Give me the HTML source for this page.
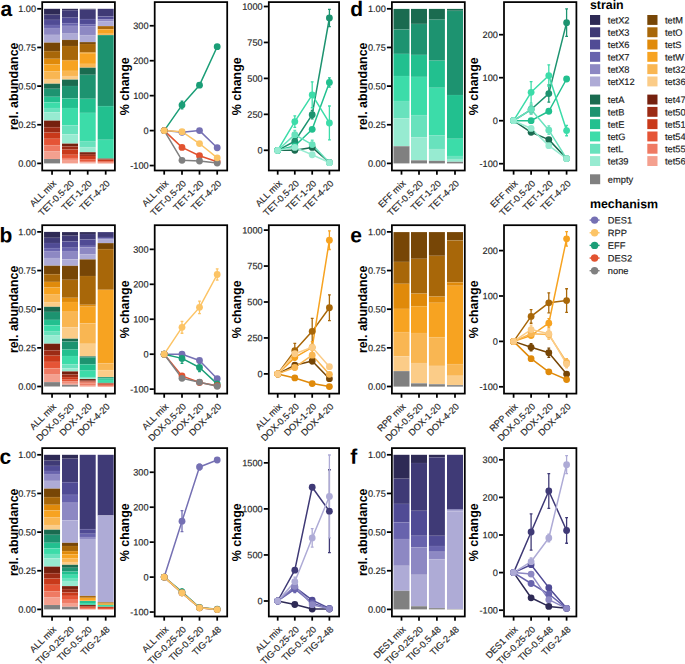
<!DOCTYPE html>
<html><head><meta charset="utf-8"><style>html,body{margin:0;padding:0;background:#fff;overflow:hidden;}svg{display:block;}</style></head><body>
<svg width="685" height="664" viewBox="0 0 685 664" font-family='"Liberation Sans", sans-serif'>
<rect width="685" height="664" fill="#fff"/>
<rect x="44.05" y="8.80" width="16.00" height="5.90" fill="#2e2a55"/>
<rect x="44.05" y="14.70" width="16.00" height="5.20" fill="#3f3a76"/>
<rect x="44.05" y="19.90" width="16.00" height="5.10" fill="#504b95"/>
<rect x="44.05" y="25.00" width="16.00" height="3.00" fill="#6863ad"/>
<rect x="44.05" y="28.00" width="16.00" height="6.90" fill="#8d88c3"/>
<rect x="44.05" y="34.90" width="16.00" height="7.70" fill="#aeabd6"/>
<rect x="44.05" y="42.60" width="16.00" height="8.50" fill="#774606"/>
<rect x="44.05" y="51.10" width="16.00" height="7.70" fill="#a86709"/>
<rect x="44.05" y="58.80" width="16.00" height="5.70" fill="#e08a0a"/>
<rect x="44.05" y="64.50" width="16.00" height="7.10" fill="#f7a321"/>
<rect x="44.05" y="71.60" width="16.00" height="7.40" fill="#f9b652"/>
<rect x="44.05" y="79.00" width="16.00" height="4.70" fill="#fbcc88"/>
<rect x="44.05" y="83.70" width="16.00" height="5.10" fill="#1a6b50"/>
<rect x="44.05" y="88.80" width="16.00" height="8.00" fill="#1d9370"/>
<rect x="44.05" y="96.80" width="16.00" height="5.50" fill="#22c08f"/>
<rect x="44.05" y="102.30" width="16.00" height="5.70" fill="#3cdca9"/>
<rect x="44.05" y="108.00" width="16.00" height="4.50" fill="#68e2bd"/>
<rect x="44.05" y="112.50" width="16.00" height="8.10" fill="#97ebd1"/>
<rect x="44.05" y="120.60" width="16.00" height="6.60" fill="#75200e"/>
<rect x="44.05" y="127.20" width="16.00" height="5.40" fill="#9c2b15"/>
<rect x="44.05" y="132.60" width="16.00" height="6.20" fill="#c9391a"/>
<rect x="44.05" y="138.80" width="16.00" height="6.40" fill="#e55436"/>
<rect x="44.05" y="145.20" width="16.00" height="6.40" fill="#ef7a63"/>
<rect x="44.05" y="151.60" width="16.00" height="7.40" fill="#f4a08f"/>
<rect x="44.05" y="159.00" width="16.00" height="4.40" fill="#808080"/>
<line x1="44.05" x2="60.05" y1="14.70" y2="14.70" stroke="#fff" stroke-opacity="0.15" stroke-width="0.5"/>
<line x1="44.05" x2="60.05" y1="19.90" y2="19.90" stroke="#fff" stroke-opacity="0.15" stroke-width="0.5"/>
<line x1="44.05" x2="60.05" y1="25.00" y2="25.00" stroke="#fff" stroke-opacity="0.15" stroke-width="0.5"/>
<line x1="44.05" x2="60.05" y1="28.00" y2="28.00" stroke="#fff" stroke-opacity="0.15" stroke-width="0.5"/>
<line x1="44.05" x2="60.05" y1="34.90" y2="34.90" stroke="#fff" stroke-opacity="0.15" stroke-width="0.5"/>
<line x1="44.05" x2="60.05" y1="42.60" y2="42.60" stroke="#fff" stroke-opacity="0.15" stroke-width="0.5"/>
<line x1="44.05" x2="60.05" y1="51.10" y2="51.10" stroke="#fff" stroke-opacity="0.15" stroke-width="0.5"/>
<line x1="44.05" x2="60.05" y1="58.80" y2="58.80" stroke="#fff" stroke-opacity="0.15" stroke-width="0.5"/>
<line x1="44.05" x2="60.05" y1="64.50" y2="64.50" stroke="#fff" stroke-opacity="0.15" stroke-width="0.5"/>
<line x1="44.05" x2="60.05" y1="71.60" y2="71.60" stroke="#fff" stroke-opacity="0.15" stroke-width="0.5"/>
<line x1="44.05" x2="60.05" y1="79.00" y2="79.00" stroke="#fff" stroke-opacity="0.15" stroke-width="0.5"/>
<line x1="44.05" x2="60.05" y1="83.70" y2="83.70" stroke="#fff" stroke-opacity="0.15" stroke-width="0.5"/>
<line x1="44.05" x2="60.05" y1="88.80" y2="88.80" stroke="#fff" stroke-opacity="0.15" stroke-width="0.5"/>
<line x1="44.05" x2="60.05" y1="96.80" y2="96.80" stroke="#fff" stroke-opacity="0.15" stroke-width="0.5"/>
<line x1="44.05" x2="60.05" y1="102.30" y2="102.30" stroke="#fff" stroke-opacity="0.15" stroke-width="0.5"/>
<line x1="44.05" x2="60.05" y1="108.00" y2="108.00" stroke="#fff" stroke-opacity="0.15" stroke-width="0.5"/>
<line x1="44.05" x2="60.05" y1="112.50" y2="112.50" stroke="#fff" stroke-opacity="0.15" stroke-width="0.5"/>
<line x1="44.05" x2="60.05" y1="120.60" y2="120.60" stroke="#fff" stroke-opacity="0.15" stroke-width="0.5"/>
<line x1="44.05" x2="60.05" y1="127.20" y2="127.20" stroke="#fff" stroke-opacity="0.15" stroke-width="0.5"/>
<line x1="44.05" x2="60.05" y1="132.60" y2="132.60" stroke="#fff" stroke-opacity="0.15" stroke-width="0.5"/>
<line x1="44.05" x2="60.05" y1="138.80" y2="138.80" stroke="#fff" stroke-opacity="0.15" stroke-width="0.5"/>
<line x1="44.05" x2="60.05" y1="145.20" y2="145.20" stroke="#fff" stroke-opacity="0.15" stroke-width="0.5"/>
<line x1="44.05" x2="60.05" y1="151.60" y2="151.60" stroke="#fff" stroke-opacity="0.15" stroke-width="0.5"/>
<line x1="44.05" x2="60.05" y1="159.00" y2="159.00" stroke="#fff" stroke-opacity="0.15" stroke-width="0.5"/>
<rect x="62.00" y="8.80" width="16.00" height="1.40" fill="#2e2a55"/>
<rect x="62.00" y="10.20" width="16.00" height="7.50" fill="#3f3a76"/>
<rect x="62.00" y="17.70" width="16.00" height="5.50" fill="#504b95"/>
<rect x="62.00" y="23.20" width="16.00" height="2.70" fill="#6863ad"/>
<rect x="62.00" y="25.90" width="16.00" height="7.80" fill="#8d88c3"/>
<rect x="62.00" y="33.70" width="16.00" height="6.20" fill="#aeabd6"/>
<rect x="62.00" y="39.90" width="16.00" height="6.10" fill="#774606"/>
<rect x="62.00" y="46.00" width="16.00" height="14.00" fill="#a86709"/>
<rect x="62.00" y="60.00" width="16.00" height="0.80" fill="#e08a0a"/>
<rect x="62.00" y="60.80" width="16.00" height="10.10" fill="#f7a321"/>
<rect x="62.00" y="70.90" width="16.00" height="5.10" fill="#f9b652"/>
<rect x="62.00" y="76.00" width="16.00" height="3.60" fill="#fbcc88"/>
<rect x="62.00" y="79.60" width="16.00" height="6.40" fill="#1a6b50"/>
<rect x="62.00" y="86.00" width="16.00" height="12.40" fill="#1d9370"/>
<rect x="62.00" y="98.40" width="16.00" height="9.60" fill="#22c08f"/>
<rect x="62.00" y="108.00" width="16.00" height="17.30" fill="#3cdca9"/>
<rect x="62.00" y="125.30" width="16.00" height="9.00" fill="#68e2bd"/>
<rect x="62.00" y="134.30" width="16.00" height="9.30" fill="#97ebd1"/>
<rect x="62.00" y="143.60" width="16.00" height="2.80" fill="#75200e"/>
<rect x="62.00" y="146.40" width="16.00" height="3.20" fill="#9c2b15"/>
<rect x="62.00" y="149.60" width="16.00" height="5.20" fill="#c9391a"/>
<rect x="62.00" y="154.80" width="16.00" height="3.20" fill="#e55436"/>
<rect x="62.00" y="158.00" width="16.00" height="1.90" fill="#ef7a63"/>
<rect x="62.00" y="159.90" width="16.00" height="3.50" fill="#f4a08f"/>
<line x1="62.00" x2="78.00" y1="10.20" y2="10.20" stroke="#fff" stroke-opacity="0.15" stroke-width="0.5"/>
<line x1="62.00" x2="78.00" y1="17.70" y2="17.70" stroke="#fff" stroke-opacity="0.15" stroke-width="0.5"/>
<line x1="62.00" x2="78.00" y1="23.20" y2="23.20" stroke="#fff" stroke-opacity="0.15" stroke-width="0.5"/>
<line x1="62.00" x2="78.00" y1="25.90" y2="25.90" stroke="#fff" stroke-opacity="0.15" stroke-width="0.5"/>
<line x1="62.00" x2="78.00" y1="33.70" y2="33.70" stroke="#fff" stroke-opacity="0.15" stroke-width="0.5"/>
<line x1="62.00" x2="78.00" y1="39.90" y2="39.90" stroke="#fff" stroke-opacity="0.15" stroke-width="0.5"/>
<line x1="62.00" x2="78.00" y1="46.00" y2="46.00" stroke="#fff" stroke-opacity="0.15" stroke-width="0.5"/>
<line x1="62.00" x2="78.00" y1="60.00" y2="60.00" stroke="#fff" stroke-opacity="0.15" stroke-width="0.5"/>
<line x1="62.00" x2="78.00" y1="60.80" y2="60.80" stroke="#fff" stroke-opacity="0.15" stroke-width="0.5"/>
<line x1="62.00" x2="78.00" y1="70.90" y2="70.90" stroke="#fff" stroke-opacity="0.15" stroke-width="0.5"/>
<line x1="62.00" x2="78.00" y1="76.00" y2="76.00" stroke="#fff" stroke-opacity="0.15" stroke-width="0.5"/>
<line x1="62.00" x2="78.00" y1="79.60" y2="79.60" stroke="#fff" stroke-opacity="0.15" stroke-width="0.5"/>
<line x1="62.00" x2="78.00" y1="86.00" y2="86.00" stroke="#fff" stroke-opacity="0.15" stroke-width="0.5"/>
<line x1="62.00" x2="78.00" y1="98.40" y2="98.40" stroke="#fff" stroke-opacity="0.15" stroke-width="0.5"/>
<line x1="62.00" x2="78.00" y1="108.00" y2="108.00" stroke="#fff" stroke-opacity="0.15" stroke-width="0.5"/>
<line x1="62.00" x2="78.00" y1="125.30" y2="125.30" stroke="#fff" stroke-opacity="0.15" stroke-width="0.5"/>
<line x1="62.00" x2="78.00" y1="134.30" y2="134.30" stroke="#fff" stroke-opacity="0.15" stroke-width="0.5"/>
<line x1="62.00" x2="78.00" y1="143.60" y2="143.60" stroke="#fff" stroke-opacity="0.15" stroke-width="0.5"/>
<line x1="62.00" x2="78.00" y1="146.40" y2="146.40" stroke="#fff" stroke-opacity="0.15" stroke-width="0.5"/>
<line x1="62.00" x2="78.00" y1="149.60" y2="149.60" stroke="#fff" stroke-opacity="0.15" stroke-width="0.5"/>
<line x1="62.00" x2="78.00" y1="154.80" y2="154.80" stroke="#fff" stroke-opacity="0.15" stroke-width="0.5"/>
<line x1="62.00" x2="78.00" y1="158.00" y2="158.00" stroke="#fff" stroke-opacity="0.15" stroke-width="0.5"/>
<line x1="62.00" x2="78.00" y1="159.90" y2="159.90" stroke="#fff" stroke-opacity="0.15" stroke-width="0.5"/>
<rect x="79.70" y="8.80" width="16.00" height="0.80" fill="#2e2a55"/>
<rect x="79.70" y="9.60" width="16.00" height="9.50" fill="#3f3a76"/>
<rect x="79.70" y="19.10" width="16.00" height="5.10" fill="#504b95"/>
<rect x="79.70" y="24.20" width="16.00" height="1.90" fill="#6863ad"/>
<rect x="79.70" y="26.10" width="16.00" height="9.00" fill="#8d88c3"/>
<rect x="79.70" y="35.10" width="16.00" height="7.00" fill="#aeabd6"/>
<rect x="79.70" y="42.10" width="16.00" height="1.90" fill="#774606"/>
<rect x="79.70" y="44.00" width="16.00" height="8.40" fill="#a86709"/>
<rect x="79.70" y="52.40" width="16.00" height="0.80" fill="#e08a0a"/>
<rect x="79.70" y="53.20" width="16.00" height="10.70" fill="#f7a321"/>
<rect x="79.70" y="63.90" width="16.00" height="3.80" fill="#f9b652"/>
<rect x="79.70" y="67.70" width="16.00" height="7.10" fill="#1a6b50"/>
<rect x="79.70" y="74.80" width="16.00" height="24.00" fill="#1d9370"/>
<rect x="79.70" y="98.80" width="16.00" height="14.10" fill="#22c08f"/>
<rect x="79.70" y="112.90" width="16.00" height="28.20" fill="#3cdca9"/>
<rect x="79.70" y="141.10" width="16.00" height="6.00" fill="#68e2bd"/>
<rect x="79.70" y="147.10" width="16.00" height="5.10" fill="#97ebd1"/>
<rect x="79.70" y="152.20" width="16.00" height="1.90" fill="#75200e"/>
<rect x="79.70" y="154.10" width="16.00" height="1.90" fill="#9c2b15"/>
<rect x="79.70" y="156.00" width="16.00" height="3.20" fill="#c9391a"/>
<rect x="79.70" y="159.20" width="16.00" height="1.80" fill="#e55436"/>
<rect x="79.70" y="161.00" width="16.00" height="1.30" fill="#ef7a63"/>
<rect x="79.70" y="162.30" width="16.00" height="1.10" fill="#f4a08f"/>
<line x1="79.70" x2="95.70" y1="9.60" y2="9.60" stroke="#fff" stroke-opacity="0.15" stroke-width="0.5"/>
<line x1="79.70" x2="95.70" y1="19.10" y2="19.10" stroke="#fff" stroke-opacity="0.15" stroke-width="0.5"/>
<line x1="79.70" x2="95.70" y1="24.20" y2="24.20" stroke="#fff" stroke-opacity="0.15" stroke-width="0.5"/>
<line x1="79.70" x2="95.70" y1="26.10" y2="26.10" stroke="#fff" stroke-opacity="0.15" stroke-width="0.5"/>
<line x1="79.70" x2="95.70" y1="35.10" y2="35.10" stroke="#fff" stroke-opacity="0.15" stroke-width="0.5"/>
<line x1="79.70" x2="95.70" y1="42.10" y2="42.10" stroke="#fff" stroke-opacity="0.15" stroke-width="0.5"/>
<line x1="79.70" x2="95.70" y1="44.00" y2="44.00" stroke="#fff" stroke-opacity="0.15" stroke-width="0.5"/>
<line x1="79.70" x2="95.70" y1="52.40" y2="52.40" stroke="#fff" stroke-opacity="0.15" stroke-width="0.5"/>
<line x1="79.70" x2="95.70" y1="53.20" y2="53.20" stroke="#fff" stroke-opacity="0.15" stroke-width="0.5"/>
<line x1="79.70" x2="95.70" y1="63.90" y2="63.90" stroke="#fff" stroke-opacity="0.15" stroke-width="0.5"/>
<line x1="79.70" x2="95.70" y1="67.70" y2="67.70" stroke="#fff" stroke-opacity="0.15" stroke-width="0.5"/>
<line x1="79.70" x2="95.70" y1="74.80" y2="74.80" stroke="#fff" stroke-opacity="0.15" stroke-width="0.5"/>
<line x1="79.70" x2="95.70" y1="98.80" y2="98.80" stroke="#fff" stroke-opacity="0.15" stroke-width="0.5"/>
<line x1="79.70" x2="95.70" y1="112.90" y2="112.90" stroke="#fff" stroke-opacity="0.15" stroke-width="0.5"/>
<line x1="79.70" x2="95.70" y1="141.10" y2="141.10" stroke="#fff" stroke-opacity="0.15" stroke-width="0.5"/>
<line x1="79.70" x2="95.70" y1="147.10" y2="147.10" stroke="#fff" stroke-opacity="0.15" stroke-width="0.5"/>
<line x1="79.70" x2="95.70" y1="152.20" y2="152.20" stroke="#fff" stroke-opacity="0.15" stroke-width="0.5"/>
<line x1="79.70" x2="95.70" y1="154.10" y2="154.10" stroke="#fff" stroke-opacity="0.15" stroke-width="0.5"/>
<line x1="79.70" x2="95.70" y1="156.00" y2="156.00" stroke="#fff" stroke-opacity="0.15" stroke-width="0.5"/>
<line x1="79.70" x2="95.70" y1="159.20" y2="159.20" stroke="#fff" stroke-opacity="0.15" stroke-width="0.5"/>
<line x1="79.70" x2="95.70" y1="161.00" y2="161.00" stroke="#fff" stroke-opacity="0.15" stroke-width="0.5"/>
<line x1="79.70" x2="95.70" y1="162.30" y2="162.30" stroke="#fff" stroke-opacity="0.15" stroke-width="0.5"/>
<rect x="97.70" y="8.80" width="16.00" height="7.70" fill="#3f3a76"/>
<rect x="97.70" y="16.50" width="16.00" height="2.60" fill="#504b95"/>
<rect x="97.70" y="19.10" width="16.00" height="2.50" fill="#8d88c3"/>
<rect x="97.70" y="21.60" width="16.00" height="4.50" fill="#aeabd6"/>
<rect x="97.70" y="26.10" width="16.00" height="3.20" fill="#a86709"/>
<rect x="97.70" y="29.30" width="16.00" height="4.50" fill="#f7a321"/>
<rect x="97.70" y="33.80" width="16.00" height="1.30" fill="#f9b652"/>
<rect x="97.70" y="35.10" width="16.00" height="71.00" fill="#1d9370"/>
<rect x="97.70" y="106.10" width="16.00" height="33.70" fill="#22c08f"/>
<rect x="97.70" y="139.80" width="16.00" height="18.80" fill="#3cdca9"/>
<rect x="97.70" y="158.60" width="16.00" height="1.00" fill="#75200e"/>
<rect x="97.70" y="159.60" width="16.00" height="1.60" fill="#c9391a"/>
<rect x="97.70" y="161.20" width="16.00" height="1.10" fill="#e55436"/>
<rect x="97.70" y="162.30" width="16.00" height="1.10" fill="#ef7a63"/>
<line x1="97.70" x2="113.70" y1="16.50" y2="16.50" stroke="#fff" stroke-opacity="0.15" stroke-width="0.5"/>
<line x1="97.70" x2="113.70" y1="19.10" y2="19.10" stroke="#fff" stroke-opacity="0.15" stroke-width="0.5"/>
<line x1="97.70" x2="113.70" y1="21.60" y2="21.60" stroke="#fff" stroke-opacity="0.15" stroke-width="0.5"/>
<line x1="97.70" x2="113.70" y1="26.10" y2="26.10" stroke="#fff" stroke-opacity="0.15" stroke-width="0.5"/>
<line x1="97.70" x2="113.70" y1="29.30" y2="29.30" stroke="#fff" stroke-opacity="0.15" stroke-width="0.5"/>
<line x1="97.70" x2="113.70" y1="33.80" y2="33.80" stroke="#fff" stroke-opacity="0.15" stroke-width="0.5"/>
<line x1="97.70" x2="113.70" y1="35.10" y2="35.10" stroke="#fff" stroke-opacity="0.15" stroke-width="0.5"/>
<line x1="97.70" x2="113.70" y1="106.10" y2="106.10" stroke="#fff" stroke-opacity="0.15" stroke-width="0.5"/>
<line x1="97.70" x2="113.70" y1="139.80" y2="139.80" stroke="#fff" stroke-opacity="0.15" stroke-width="0.5"/>
<line x1="97.70" x2="113.70" y1="158.60" y2="158.60" stroke="#fff" stroke-opacity="0.15" stroke-width="0.5"/>
<line x1="97.70" x2="113.70" y1="159.60" y2="159.60" stroke="#fff" stroke-opacity="0.15" stroke-width="0.5"/>
<line x1="97.70" x2="113.70" y1="161.20" y2="161.20" stroke="#fff" stroke-opacity="0.15" stroke-width="0.5"/>
<line x1="97.70" x2="113.70" y1="162.30" y2="162.30" stroke="#fff" stroke-opacity="0.15" stroke-width="0.5"/>
<rect x="42.20" y="2.10" width="72.70" height="168.40" fill="none" stroke="#000" stroke-width="1.75"/>
<line x1="37.20" x2="41.35" y1="163.40" y2="163.40" stroke="#000" stroke-width="1.75"/>
<text x="0.00" y="0.00" font-size="9.2" text-anchor="end" fill="#262626" transform="translate(36.10,166.70) rotate(0.05)" stroke="#262626" stroke-width="0.15">0.00</text>
<line x1="37.20" x2="41.35" y1="124.75" y2="124.75" stroke="#000" stroke-width="1.75"/>
<text x="0.00" y="0.00" font-size="9.2" text-anchor="end" fill="#262626" transform="translate(36.10,128.05) rotate(0.05)" stroke="#262626" stroke-width="0.15">0.25</text>
<line x1="37.20" x2="41.35" y1="86.10" y2="86.10" stroke="#000" stroke-width="1.75"/>
<text x="0.00" y="0.00" font-size="9.2" text-anchor="end" fill="#262626" transform="translate(36.10,89.40) rotate(0.05)" stroke="#262626" stroke-width="0.15">0.50</text>
<line x1="37.20" x2="41.35" y1="47.45" y2="47.45" stroke="#000" stroke-width="1.75"/>
<text x="0.00" y="0.00" font-size="9.2" text-anchor="end" fill="#262626" transform="translate(36.10,50.75) rotate(0.05)" stroke="#262626" stroke-width="0.15">0.75</text>
<line x1="37.20" x2="41.35" y1="8.80" y2="8.80" stroke="#000" stroke-width="1.75"/>
<text x="0.00" y="0.00" font-size="9.2" text-anchor="end" fill="#262626" transform="translate(36.10,12.10) rotate(0.05)" stroke="#262626" stroke-width="0.15">1.00</text>
<line x1="52.05" x2="52.05" y1="170.50" y2="174.65" stroke="#000" stroke-width="1.75"/>
<text x="0.00" y="0.00" font-size="9.2" text-anchor="end" fill="#262626" transform="translate(56.75,184.05) rotate(-45)" stroke="#262626" stroke-width="0.15">ALL mix</text>
<line x1="70.00" x2="70.00" y1="170.50" y2="174.65" stroke="#000" stroke-width="1.75"/>
<text x="0.00" y="0.00" font-size="9.2" text-anchor="end" fill="#262626" transform="translate(74.70,184.05) rotate(-45)" stroke="#262626" stroke-width="0.15">TET-0.5-20</text>
<line x1="87.70" x2="87.70" y1="170.50" y2="174.65" stroke="#000" stroke-width="1.75"/>
<text x="0.00" y="0.00" font-size="9.2" text-anchor="end" fill="#262626" transform="translate(92.40,184.05) rotate(-45)" stroke="#262626" stroke-width="0.15">TET-1-20</text>
<line x1="105.70" x2="105.70" y1="170.50" y2="174.65" stroke="#000" stroke-width="1.75"/>
<text x="0.00" y="0.00" font-size="9.2" text-anchor="end" fill="#262626" transform="translate(110.40,184.05) rotate(-45)" stroke="#262626" stroke-width="0.15">TET-4-20</text>
<text x="0.00" y="0.00" font-size="12.4" text-anchor="middle" font-weight="bold" fill="#000" transform="translate(17.50,86.30) rotate(-90)">rel. abundance</text>
<text x="0.00" y="0.00" font-size="21" text-anchor="start" font-weight="bold" fill="#000" transform="translate(0.60,16.00) rotate(0.05)">a</text>
<rect x="44.05" y="231.90" width="16.00" height="5.90" fill="#2e2a55"/>
<rect x="44.05" y="237.80" width="16.00" height="5.20" fill="#3f3a76"/>
<rect x="44.05" y="243.00" width="16.00" height="5.10" fill="#504b95"/>
<rect x="44.05" y="248.10" width="16.00" height="3.00" fill="#6863ad"/>
<rect x="44.05" y="251.10" width="16.00" height="6.90" fill="#8d88c3"/>
<rect x="44.05" y="258.00" width="16.00" height="7.70" fill="#aeabd6"/>
<rect x="44.05" y="265.70" width="16.00" height="8.50" fill="#774606"/>
<rect x="44.05" y="274.20" width="16.00" height="7.70" fill="#a86709"/>
<rect x="44.05" y="281.90" width="16.00" height="5.70" fill="#e08a0a"/>
<rect x="44.05" y="287.60" width="16.00" height="7.10" fill="#f7a321"/>
<rect x="44.05" y="294.70" width="16.00" height="7.40" fill="#f9b652"/>
<rect x="44.05" y="302.10" width="16.00" height="4.70" fill="#fbcc88"/>
<rect x="44.05" y="306.80" width="16.00" height="5.10" fill="#1a6b50"/>
<rect x="44.05" y="311.90" width="16.00" height="8.00" fill="#1d9370"/>
<rect x="44.05" y="319.90" width="16.00" height="5.50" fill="#22c08f"/>
<rect x="44.05" y="325.40" width="16.00" height="5.70" fill="#3cdca9"/>
<rect x="44.05" y="331.10" width="16.00" height="4.50" fill="#68e2bd"/>
<rect x="44.05" y="335.60" width="16.00" height="8.10" fill="#97ebd1"/>
<rect x="44.05" y="343.70" width="16.00" height="6.60" fill="#75200e"/>
<rect x="44.05" y="350.30" width="16.00" height="5.40" fill="#9c2b15"/>
<rect x="44.05" y="355.70" width="16.00" height="6.20" fill="#c9391a"/>
<rect x="44.05" y="361.90" width="16.00" height="6.40" fill="#e55436"/>
<rect x="44.05" y="368.30" width="16.00" height="6.40" fill="#ef7a63"/>
<rect x="44.05" y="374.70" width="16.00" height="7.40" fill="#f4a08f"/>
<rect x="44.05" y="382.10" width="16.00" height="4.40" fill="#808080"/>
<line x1="44.05" x2="60.05" y1="237.80" y2="237.80" stroke="#fff" stroke-opacity="0.15" stroke-width="0.5"/>
<line x1="44.05" x2="60.05" y1="243.00" y2="243.00" stroke="#fff" stroke-opacity="0.15" stroke-width="0.5"/>
<line x1="44.05" x2="60.05" y1="248.10" y2="248.10" stroke="#fff" stroke-opacity="0.15" stroke-width="0.5"/>
<line x1="44.05" x2="60.05" y1="251.10" y2="251.10" stroke="#fff" stroke-opacity="0.15" stroke-width="0.5"/>
<line x1="44.05" x2="60.05" y1="258.00" y2="258.00" stroke="#fff" stroke-opacity="0.15" stroke-width="0.5"/>
<line x1="44.05" x2="60.05" y1="265.70" y2="265.70" stroke="#fff" stroke-opacity="0.15" stroke-width="0.5"/>
<line x1="44.05" x2="60.05" y1="274.20" y2="274.20" stroke="#fff" stroke-opacity="0.15" stroke-width="0.5"/>
<line x1="44.05" x2="60.05" y1="281.90" y2="281.90" stroke="#fff" stroke-opacity="0.15" stroke-width="0.5"/>
<line x1="44.05" x2="60.05" y1="287.60" y2="287.60" stroke="#fff" stroke-opacity="0.15" stroke-width="0.5"/>
<line x1="44.05" x2="60.05" y1="294.70" y2="294.70" stroke="#fff" stroke-opacity="0.15" stroke-width="0.5"/>
<line x1="44.05" x2="60.05" y1="302.10" y2="302.10" stroke="#fff" stroke-opacity="0.15" stroke-width="0.5"/>
<line x1="44.05" x2="60.05" y1="306.80" y2="306.80" stroke="#fff" stroke-opacity="0.15" stroke-width="0.5"/>
<line x1="44.05" x2="60.05" y1="311.90" y2="311.90" stroke="#fff" stroke-opacity="0.15" stroke-width="0.5"/>
<line x1="44.05" x2="60.05" y1="319.90" y2="319.90" stroke="#fff" stroke-opacity="0.15" stroke-width="0.5"/>
<line x1="44.05" x2="60.05" y1="325.40" y2="325.40" stroke="#fff" stroke-opacity="0.15" stroke-width="0.5"/>
<line x1="44.05" x2="60.05" y1="331.10" y2="331.10" stroke="#fff" stroke-opacity="0.15" stroke-width="0.5"/>
<line x1="44.05" x2="60.05" y1="335.60" y2="335.60" stroke="#fff" stroke-opacity="0.15" stroke-width="0.5"/>
<line x1="44.05" x2="60.05" y1="343.70" y2="343.70" stroke="#fff" stroke-opacity="0.15" stroke-width="0.5"/>
<line x1="44.05" x2="60.05" y1="350.30" y2="350.30" stroke="#fff" stroke-opacity="0.15" stroke-width="0.5"/>
<line x1="44.05" x2="60.05" y1="355.70" y2="355.70" stroke="#fff" stroke-opacity="0.15" stroke-width="0.5"/>
<line x1="44.05" x2="60.05" y1="361.90" y2="361.90" stroke="#fff" stroke-opacity="0.15" stroke-width="0.5"/>
<line x1="44.05" x2="60.05" y1="368.30" y2="368.30" stroke="#fff" stroke-opacity="0.15" stroke-width="0.5"/>
<line x1="44.05" x2="60.05" y1="374.70" y2="374.70" stroke="#fff" stroke-opacity="0.15" stroke-width="0.5"/>
<line x1="44.05" x2="60.05" y1="382.10" y2="382.10" stroke="#fff" stroke-opacity="0.15" stroke-width="0.5"/>
<rect x="62.00" y="232.10" width="16.00" height="3.60" fill="#2e2a55"/>
<rect x="62.00" y="235.70" width="16.00" height="5.70" fill="#3f3a76"/>
<rect x="62.00" y="241.40" width="16.00" height="6.40" fill="#504b95"/>
<rect x="62.00" y="247.80" width="16.00" height="3.20" fill="#6863ad"/>
<rect x="62.00" y="251.00" width="16.00" height="8.40" fill="#8d88c3"/>
<rect x="62.00" y="259.40" width="16.00" height="6.40" fill="#aeabd6"/>
<rect x="62.00" y="265.80" width="16.00" height="14.00" fill="#774606"/>
<rect x="62.00" y="279.80" width="16.00" height="18.00" fill="#a86709"/>
<rect x="62.00" y="297.80" width="16.00" height="4.20" fill="#e08a0a"/>
<rect x="62.00" y="302.00" width="16.00" height="9.80" fill="#f7a321"/>
<rect x="62.00" y="311.80" width="16.00" height="15.40" fill="#f9b652"/>
<rect x="62.00" y="327.20" width="16.00" height="11.50" fill="#fbcc88"/>
<rect x="62.00" y="338.70" width="16.00" height="2.80" fill="#1a6b50"/>
<rect x="62.00" y="341.50" width="16.00" height="8.10" fill="#1d9370"/>
<rect x="62.00" y="349.60" width="16.00" height="6.40" fill="#22c08f"/>
<rect x="62.00" y="356.00" width="16.00" height="8.30" fill="#3cdca9"/>
<rect x="62.00" y="364.30" width="16.00" height="3.90" fill="#68e2bd"/>
<rect x="62.00" y="368.20" width="16.00" height="3.20" fill="#97ebd1"/>
<rect x="62.00" y="371.40" width="16.00" height="3.20" fill="#75200e"/>
<rect x="62.00" y="374.60" width="16.00" height="2.50" fill="#9c2b15"/>
<rect x="62.00" y="377.10" width="16.00" height="2.60" fill="#c9391a"/>
<rect x="62.00" y="379.70" width="16.00" height="1.80" fill="#e55436"/>
<rect x="62.00" y="381.50" width="16.00" height="1.40" fill="#ef7a63"/>
<rect x="62.00" y="382.90" width="16.00" height="1.90" fill="#f4a08f"/>
<rect x="62.00" y="384.80" width="16.00" height="1.80" fill="#808080"/>
<line x1="62.00" x2="78.00" y1="235.70" y2="235.70" stroke="#fff" stroke-opacity="0.15" stroke-width="0.5"/>
<line x1="62.00" x2="78.00" y1="241.40" y2="241.40" stroke="#fff" stroke-opacity="0.15" stroke-width="0.5"/>
<line x1="62.00" x2="78.00" y1="247.80" y2="247.80" stroke="#fff" stroke-opacity="0.15" stroke-width="0.5"/>
<line x1="62.00" x2="78.00" y1="251.00" y2="251.00" stroke="#fff" stroke-opacity="0.15" stroke-width="0.5"/>
<line x1="62.00" x2="78.00" y1="259.40" y2="259.40" stroke="#fff" stroke-opacity="0.15" stroke-width="0.5"/>
<line x1="62.00" x2="78.00" y1="265.80" y2="265.80" stroke="#fff" stroke-opacity="0.15" stroke-width="0.5"/>
<line x1="62.00" x2="78.00" y1="279.80" y2="279.80" stroke="#fff" stroke-opacity="0.15" stroke-width="0.5"/>
<line x1="62.00" x2="78.00" y1="297.80" y2="297.80" stroke="#fff" stroke-opacity="0.15" stroke-width="0.5"/>
<line x1="62.00" x2="78.00" y1="302.00" y2="302.00" stroke="#fff" stroke-opacity="0.15" stroke-width="0.5"/>
<line x1="62.00" x2="78.00" y1="311.80" y2="311.80" stroke="#fff" stroke-opacity="0.15" stroke-width="0.5"/>
<line x1="62.00" x2="78.00" y1="327.20" y2="327.20" stroke="#fff" stroke-opacity="0.15" stroke-width="0.5"/>
<line x1="62.00" x2="78.00" y1="338.70" y2="338.70" stroke="#fff" stroke-opacity="0.15" stroke-width="0.5"/>
<line x1="62.00" x2="78.00" y1="341.50" y2="341.50" stroke="#fff" stroke-opacity="0.15" stroke-width="0.5"/>
<line x1="62.00" x2="78.00" y1="349.60" y2="349.60" stroke="#fff" stroke-opacity="0.15" stroke-width="0.5"/>
<line x1="62.00" x2="78.00" y1="356.00" y2="356.00" stroke="#fff" stroke-opacity="0.15" stroke-width="0.5"/>
<line x1="62.00" x2="78.00" y1="364.30" y2="364.30" stroke="#fff" stroke-opacity="0.15" stroke-width="0.5"/>
<line x1="62.00" x2="78.00" y1="368.20" y2="368.20" stroke="#fff" stroke-opacity="0.15" stroke-width="0.5"/>
<line x1="62.00" x2="78.00" y1="371.40" y2="371.40" stroke="#fff" stroke-opacity="0.15" stroke-width="0.5"/>
<line x1="62.00" x2="78.00" y1="374.60" y2="374.60" stroke="#fff" stroke-opacity="0.15" stroke-width="0.5"/>
<line x1="62.00" x2="78.00" y1="377.10" y2="377.10" stroke="#fff" stroke-opacity="0.15" stroke-width="0.5"/>
<line x1="62.00" x2="78.00" y1="379.70" y2="379.70" stroke="#fff" stroke-opacity="0.15" stroke-width="0.5"/>
<line x1="62.00" x2="78.00" y1="381.50" y2="381.50" stroke="#fff" stroke-opacity="0.15" stroke-width="0.5"/>
<line x1="62.00" x2="78.00" y1="382.90" y2="382.90" stroke="#fff" stroke-opacity="0.15" stroke-width="0.5"/>
<line x1="62.00" x2="78.00" y1="384.80" y2="384.80" stroke="#fff" stroke-opacity="0.15" stroke-width="0.5"/>
<rect x="79.70" y="232.10" width="16.00" height="1.90" fill="#2e2a55"/>
<rect x="79.70" y="234.00" width="16.00" height="5.50" fill="#3f3a76"/>
<rect x="79.70" y="239.50" width="16.00" height="6.40" fill="#504b95"/>
<rect x="79.70" y="245.90" width="16.00" height="1.60" fill="#6863ad"/>
<rect x="79.70" y="247.50" width="16.00" height="6.70" fill="#8d88c3"/>
<rect x="79.70" y="254.20" width="16.00" height="5.20" fill="#aeabd6"/>
<rect x="79.70" y="259.40" width="16.00" height="16.60" fill="#774606"/>
<rect x="79.70" y="276.00" width="16.00" height="28.80" fill="#a86709"/>
<rect x="79.70" y="304.80" width="16.00" height="1.90" fill="#e08a0a"/>
<rect x="79.70" y="306.70" width="16.00" height="16.70" fill="#f7a321"/>
<rect x="79.70" y="323.40" width="16.00" height="20.40" fill="#f9b652"/>
<rect x="79.70" y="343.80" width="16.00" height="12.60" fill="#fbcc88"/>
<rect x="79.70" y="356.40" width="16.00" height="0.90" fill="#1a6b50"/>
<rect x="79.70" y="357.30" width="16.00" height="7.00" fill="#1d9370"/>
<rect x="79.70" y="364.30" width="16.00" height="6.40" fill="#22c08f"/>
<rect x="79.70" y="370.70" width="16.00" height="6.40" fill="#3cdca9"/>
<rect x="79.70" y="377.10" width="16.00" height="0.90" fill="#68e2bd"/>
<rect x="79.70" y="378.00" width="16.00" height="1.00" fill="#97ebd1"/>
<rect x="79.70" y="379.00" width="16.00" height="1.70" fill="#75200e"/>
<rect x="79.70" y="380.70" width="16.00" height="0.80" fill="#9c2b15"/>
<rect x="79.70" y="381.50" width="16.00" height="1.00" fill="#c9391a"/>
<rect x="79.70" y="382.50" width="16.00" height="1.00" fill="#e55436"/>
<rect x="79.70" y="383.50" width="16.00" height="1.50" fill="#ef7a63"/>
<rect x="79.70" y="385.00" width="16.00" height="1.60" fill="#f4a08f"/>
<line x1="79.70" x2="95.70" y1="234.00" y2="234.00" stroke="#fff" stroke-opacity="0.15" stroke-width="0.5"/>
<line x1="79.70" x2="95.70" y1="239.50" y2="239.50" stroke="#fff" stroke-opacity="0.15" stroke-width="0.5"/>
<line x1="79.70" x2="95.70" y1="245.90" y2="245.90" stroke="#fff" stroke-opacity="0.15" stroke-width="0.5"/>
<line x1="79.70" x2="95.70" y1="247.50" y2="247.50" stroke="#fff" stroke-opacity="0.15" stroke-width="0.5"/>
<line x1="79.70" x2="95.70" y1="254.20" y2="254.20" stroke="#fff" stroke-opacity="0.15" stroke-width="0.5"/>
<line x1="79.70" x2="95.70" y1="259.40" y2="259.40" stroke="#fff" stroke-opacity="0.15" stroke-width="0.5"/>
<line x1="79.70" x2="95.70" y1="276.00" y2="276.00" stroke="#fff" stroke-opacity="0.15" stroke-width="0.5"/>
<line x1="79.70" x2="95.70" y1="304.80" y2="304.80" stroke="#fff" stroke-opacity="0.15" stroke-width="0.5"/>
<line x1="79.70" x2="95.70" y1="306.70" y2="306.70" stroke="#fff" stroke-opacity="0.15" stroke-width="0.5"/>
<line x1="79.70" x2="95.70" y1="323.40" y2="323.40" stroke="#fff" stroke-opacity="0.15" stroke-width="0.5"/>
<line x1="79.70" x2="95.70" y1="343.80" y2="343.80" stroke="#fff" stroke-opacity="0.15" stroke-width="0.5"/>
<line x1="79.70" x2="95.70" y1="356.40" y2="356.40" stroke="#fff" stroke-opacity="0.15" stroke-width="0.5"/>
<line x1="79.70" x2="95.70" y1="357.30" y2="357.30" stroke="#fff" stroke-opacity="0.15" stroke-width="0.5"/>
<line x1="79.70" x2="95.70" y1="364.30" y2="364.30" stroke="#fff" stroke-opacity="0.15" stroke-width="0.5"/>
<line x1="79.70" x2="95.70" y1="370.70" y2="370.70" stroke="#fff" stroke-opacity="0.15" stroke-width="0.5"/>
<line x1="79.70" x2="95.70" y1="377.10" y2="377.10" stroke="#fff" stroke-opacity="0.15" stroke-width="0.5"/>
<line x1="79.70" x2="95.70" y1="378.00" y2="378.00" stroke="#fff" stroke-opacity="0.15" stroke-width="0.5"/>
<line x1="79.70" x2="95.70" y1="379.00" y2="379.00" stroke="#fff" stroke-opacity="0.15" stroke-width="0.5"/>
<line x1="79.70" x2="95.70" y1="380.70" y2="380.70" stroke="#fff" stroke-opacity="0.15" stroke-width="0.5"/>
<line x1="79.70" x2="95.70" y1="381.50" y2="381.50" stroke="#fff" stroke-opacity="0.15" stroke-width="0.5"/>
<line x1="79.70" x2="95.70" y1="382.50" y2="382.50" stroke="#fff" stroke-opacity="0.15" stroke-width="0.5"/>
<line x1="79.70" x2="95.70" y1="383.50" y2="383.50" stroke="#fff" stroke-opacity="0.15" stroke-width="0.5"/>
<line x1="79.70" x2="95.70" y1="385.00" y2="385.00" stroke="#fff" stroke-opacity="0.15" stroke-width="0.5"/>
<rect x="97.70" y="232.10" width="16.00" height="4.90" fill="#3f3a76"/>
<rect x="97.70" y="237.00" width="16.00" height="1.30" fill="#504b95"/>
<rect x="97.70" y="238.30" width="16.00" height="1.20" fill="#6863ad"/>
<rect x="97.70" y="239.50" width="16.00" height="3.60" fill="#aeabd6"/>
<rect x="97.70" y="243.10" width="16.00" height="6.00" fill="#774606"/>
<rect x="97.70" y="249.10" width="16.00" height="40.70" fill="#a86709"/>
<rect x="97.70" y="289.80" width="16.00" height="73.50" fill="#f7a321"/>
<rect x="97.70" y="363.30" width="16.00" height="6.80" fill="#f9b652"/>
<rect x="97.70" y="370.10" width="16.00" height="7.00" fill="#fbcc88"/>
<rect x="97.70" y="377.10" width="16.00" height="1.30" fill="#1d9370"/>
<rect x="97.70" y="378.40" width="16.00" height="1.50" fill="#22c08f"/>
<rect x="97.70" y="379.90" width="16.00" height="3.00" fill="#3cdca9"/>
<rect x="97.70" y="382.90" width="16.00" height="0.60" fill="#75200e"/>
<rect x="97.70" y="383.50" width="16.00" height="1.30" fill="#c9391a"/>
<rect x="97.70" y="384.80" width="16.00" height="1.00" fill="#e55436"/>
<rect x="97.70" y="385.80" width="16.00" height="0.80" fill="#ef7a63"/>
<line x1="97.70" x2="113.70" y1="237.00" y2="237.00" stroke="#fff" stroke-opacity="0.15" stroke-width="0.5"/>
<line x1="97.70" x2="113.70" y1="238.30" y2="238.30" stroke="#fff" stroke-opacity="0.15" stroke-width="0.5"/>
<line x1="97.70" x2="113.70" y1="239.50" y2="239.50" stroke="#fff" stroke-opacity="0.15" stroke-width="0.5"/>
<line x1="97.70" x2="113.70" y1="243.10" y2="243.10" stroke="#fff" stroke-opacity="0.15" stroke-width="0.5"/>
<line x1="97.70" x2="113.70" y1="249.10" y2="249.10" stroke="#fff" stroke-opacity="0.15" stroke-width="0.5"/>
<line x1="97.70" x2="113.70" y1="289.80" y2="289.80" stroke="#fff" stroke-opacity="0.15" stroke-width="0.5"/>
<line x1="97.70" x2="113.70" y1="363.30" y2="363.30" stroke="#fff" stroke-opacity="0.15" stroke-width="0.5"/>
<line x1="97.70" x2="113.70" y1="370.10" y2="370.10" stroke="#fff" stroke-opacity="0.15" stroke-width="0.5"/>
<line x1="97.70" x2="113.70" y1="377.10" y2="377.10" stroke="#fff" stroke-opacity="0.15" stroke-width="0.5"/>
<line x1="97.70" x2="113.70" y1="378.40" y2="378.40" stroke="#fff" stroke-opacity="0.15" stroke-width="0.5"/>
<line x1="97.70" x2="113.70" y1="379.90" y2="379.90" stroke="#fff" stroke-opacity="0.15" stroke-width="0.5"/>
<line x1="97.70" x2="113.70" y1="382.90" y2="382.90" stroke="#fff" stroke-opacity="0.15" stroke-width="0.5"/>
<line x1="97.70" x2="113.70" y1="383.50" y2="383.50" stroke="#fff" stroke-opacity="0.15" stroke-width="0.5"/>
<line x1="97.70" x2="113.70" y1="384.80" y2="384.80" stroke="#fff" stroke-opacity="0.15" stroke-width="0.5"/>
<line x1="97.70" x2="113.70" y1="385.80" y2="385.80" stroke="#fff" stroke-opacity="0.15" stroke-width="0.5"/>
<rect x="42.20" y="225.20" width="72.70" height="168.40" fill="none" stroke="#000" stroke-width="1.75"/>
<line x1="37.20" x2="41.35" y1="386.50" y2="386.50" stroke="#000" stroke-width="1.75"/>
<text x="0.00" y="0.00" font-size="9.2" text-anchor="end" fill="#262626" transform="translate(36.10,389.80) rotate(0.05)" stroke="#262626" stroke-width="0.15">0.00</text>
<line x1="37.20" x2="41.35" y1="347.85" y2="347.85" stroke="#000" stroke-width="1.75"/>
<text x="0.00" y="0.00" font-size="9.2" text-anchor="end" fill="#262626" transform="translate(36.10,351.15) rotate(0.05)" stroke="#262626" stroke-width="0.15">0.25</text>
<line x1="37.20" x2="41.35" y1="309.20" y2="309.20" stroke="#000" stroke-width="1.75"/>
<text x="0.00" y="0.00" font-size="9.2" text-anchor="end" fill="#262626" transform="translate(36.10,312.50) rotate(0.05)" stroke="#262626" stroke-width="0.15">0.50</text>
<line x1="37.20" x2="41.35" y1="270.55" y2="270.55" stroke="#000" stroke-width="1.75"/>
<text x="0.00" y="0.00" font-size="9.2" text-anchor="end" fill="#262626" transform="translate(36.10,273.85) rotate(0.05)" stroke="#262626" stroke-width="0.15">0.75</text>
<line x1="37.20" x2="41.35" y1="231.90" y2="231.90" stroke="#000" stroke-width="1.75"/>
<text x="0.00" y="0.00" font-size="9.2" text-anchor="end" fill="#262626" transform="translate(36.10,235.20) rotate(0.05)" stroke="#262626" stroke-width="0.15">1.00</text>
<line x1="52.05" x2="52.05" y1="393.60" y2="397.75" stroke="#000" stroke-width="1.75"/>
<text x="0.00" y="0.00" font-size="9.2" text-anchor="end" fill="#262626" transform="translate(56.75,407.15) rotate(-45)" stroke="#262626" stroke-width="0.15">ALL mix</text>
<line x1="70.00" x2="70.00" y1="393.60" y2="397.75" stroke="#000" stroke-width="1.75"/>
<text x="0.00" y="0.00" font-size="9.2" text-anchor="end" fill="#262626" transform="translate(74.70,407.15) rotate(-45)" stroke="#262626" stroke-width="0.15">DOX-0.5-20</text>
<line x1="87.70" x2="87.70" y1="393.60" y2="397.75" stroke="#000" stroke-width="1.75"/>
<text x="0.00" y="0.00" font-size="9.2" text-anchor="end" fill="#262626" transform="translate(92.40,407.15) rotate(-45)" stroke="#262626" stroke-width="0.15">DOX-1-20</text>
<line x1="105.70" x2="105.70" y1="393.60" y2="397.75" stroke="#000" stroke-width="1.75"/>
<text x="0.00" y="0.00" font-size="9.2" text-anchor="end" fill="#262626" transform="translate(110.40,407.15) rotate(-45)" stroke="#262626" stroke-width="0.15">DOX-4-20</text>
<text x="0.00" y="0.00" font-size="12.4" text-anchor="middle" font-weight="bold" fill="#000" transform="translate(17.50,309.40) rotate(-90)">rel. abundance</text>
<text x="0.00" y="0.00" font-size="21" text-anchor="start" font-weight="bold" fill="#000" transform="translate(-0.50,242.30) rotate(0.05)">b</text>
<rect x="44.05" y="454.80" width="16.00" height="5.90" fill="#2e2a55"/>
<rect x="44.05" y="460.70" width="16.00" height="5.20" fill="#3f3a76"/>
<rect x="44.05" y="465.90" width="16.00" height="5.10" fill="#504b95"/>
<rect x="44.05" y="471.00" width="16.00" height="3.00" fill="#6863ad"/>
<rect x="44.05" y="474.00" width="16.00" height="6.90" fill="#8d88c3"/>
<rect x="44.05" y="480.90" width="16.00" height="7.70" fill="#aeabd6"/>
<rect x="44.05" y="488.60" width="16.00" height="8.50" fill="#774606"/>
<rect x="44.05" y="497.10" width="16.00" height="7.70" fill="#a86709"/>
<rect x="44.05" y="504.80" width="16.00" height="5.70" fill="#e08a0a"/>
<rect x="44.05" y="510.50" width="16.00" height="7.10" fill="#f7a321"/>
<rect x="44.05" y="517.60" width="16.00" height="7.40" fill="#f9b652"/>
<rect x="44.05" y="525.00" width="16.00" height="4.70" fill="#fbcc88"/>
<rect x="44.05" y="529.70" width="16.00" height="5.10" fill="#1a6b50"/>
<rect x="44.05" y="534.80" width="16.00" height="8.00" fill="#1d9370"/>
<rect x="44.05" y="542.80" width="16.00" height="5.50" fill="#22c08f"/>
<rect x="44.05" y="548.30" width="16.00" height="5.70" fill="#3cdca9"/>
<rect x="44.05" y="554.00" width="16.00" height="4.50" fill="#68e2bd"/>
<rect x="44.05" y="558.50" width="16.00" height="8.10" fill="#97ebd1"/>
<rect x="44.05" y="566.60" width="16.00" height="6.60" fill="#75200e"/>
<rect x="44.05" y="573.20" width="16.00" height="5.40" fill="#9c2b15"/>
<rect x="44.05" y="578.60" width="16.00" height="6.20" fill="#c9391a"/>
<rect x="44.05" y="584.80" width="16.00" height="6.40" fill="#e55436"/>
<rect x="44.05" y="591.20" width="16.00" height="6.40" fill="#ef7a63"/>
<rect x="44.05" y="597.60" width="16.00" height="7.40" fill="#f4a08f"/>
<rect x="44.05" y="605.00" width="16.00" height="4.40" fill="#808080"/>
<line x1="44.05" x2="60.05" y1="460.70" y2="460.70" stroke="#fff" stroke-opacity="0.15" stroke-width="0.5"/>
<line x1="44.05" x2="60.05" y1="465.90" y2="465.90" stroke="#fff" stroke-opacity="0.15" stroke-width="0.5"/>
<line x1="44.05" x2="60.05" y1="471.00" y2="471.00" stroke="#fff" stroke-opacity="0.15" stroke-width="0.5"/>
<line x1="44.05" x2="60.05" y1="474.00" y2="474.00" stroke="#fff" stroke-opacity="0.15" stroke-width="0.5"/>
<line x1="44.05" x2="60.05" y1="480.90" y2="480.90" stroke="#fff" stroke-opacity="0.15" stroke-width="0.5"/>
<line x1="44.05" x2="60.05" y1="488.60" y2="488.60" stroke="#fff" stroke-opacity="0.15" stroke-width="0.5"/>
<line x1="44.05" x2="60.05" y1="497.10" y2="497.10" stroke="#fff" stroke-opacity="0.15" stroke-width="0.5"/>
<line x1="44.05" x2="60.05" y1="504.80" y2="504.80" stroke="#fff" stroke-opacity="0.15" stroke-width="0.5"/>
<line x1="44.05" x2="60.05" y1="510.50" y2="510.50" stroke="#fff" stroke-opacity="0.15" stroke-width="0.5"/>
<line x1="44.05" x2="60.05" y1="517.60" y2="517.60" stroke="#fff" stroke-opacity="0.15" stroke-width="0.5"/>
<line x1="44.05" x2="60.05" y1="525.00" y2="525.00" stroke="#fff" stroke-opacity="0.15" stroke-width="0.5"/>
<line x1="44.05" x2="60.05" y1="529.70" y2="529.70" stroke="#fff" stroke-opacity="0.15" stroke-width="0.5"/>
<line x1="44.05" x2="60.05" y1="534.80" y2="534.80" stroke="#fff" stroke-opacity="0.15" stroke-width="0.5"/>
<line x1="44.05" x2="60.05" y1="542.80" y2="542.80" stroke="#fff" stroke-opacity="0.15" stroke-width="0.5"/>
<line x1="44.05" x2="60.05" y1="548.30" y2="548.30" stroke="#fff" stroke-opacity="0.15" stroke-width="0.5"/>
<line x1="44.05" x2="60.05" y1="554.00" y2="554.00" stroke="#fff" stroke-opacity="0.15" stroke-width="0.5"/>
<line x1="44.05" x2="60.05" y1="558.50" y2="558.50" stroke="#fff" stroke-opacity="0.15" stroke-width="0.5"/>
<line x1="44.05" x2="60.05" y1="566.60" y2="566.60" stroke="#fff" stroke-opacity="0.15" stroke-width="0.5"/>
<line x1="44.05" x2="60.05" y1="573.20" y2="573.20" stroke="#fff" stroke-opacity="0.15" stroke-width="0.5"/>
<line x1="44.05" x2="60.05" y1="578.60" y2="578.60" stroke="#fff" stroke-opacity="0.15" stroke-width="0.5"/>
<line x1="44.05" x2="60.05" y1="584.80" y2="584.80" stroke="#fff" stroke-opacity="0.15" stroke-width="0.5"/>
<line x1="44.05" x2="60.05" y1="591.20" y2="591.20" stroke="#fff" stroke-opacity="0.15" stroke-width="0.5"/>
<line x1="44.05" x2="60.05" y1="597.60" y2="597.60" stroke="#fff" stroke-opacity="0.15" stroke-width="0.5"/>
<line x1="44.05" x2="60.05" y1="605.00" y2="605.00" stroke="#fff" stroke-opacity="0.15" stroke-width="0.5"/>
<rect x="62.00" y="454.80" width="16.00" height="3.90" fill="#2e2a55"/>
<rect x="62.00" y="458.70" width="16.00" height="23.50" fill="#3f3a76"/>
<rect x="62.00" y="482.20" width="16.00" height="12.70" fill="#504b95"/>
<rect x="62.00" y="494.90" width="16.00" height="7.90" fill="#6863ad"/>
<rect x="62.00" y="502.80" width="16.00" height="17.60" fill="#8d88c3"/>
<rect x="62.00" y="520.40" width="16.00" height="22.40" fill="#aeabd6"/>
<rect x="62.00" y="542.80" width="16.00" height="3.20" fill="#774606"/>
<rect x="62.00" y="546.00" width="16.00" height="5.10" fill="#a86709"/>
<rect x="62.00" y="551.10" width="16.00" height="3.20" fill="#e08a0a"/>
<rect x="62.00" y="554.30" width="16.00" height="3.90" fill="#f7a321"/>
<rect x="62.00" y="558.20" width="16.00" height="3.80" fill="#f9b652"/>
<rect x="62.00" y="562.00" width="16.00" height="2.80" fill="#fbcc88"/>
<rect x="62.00" y="564.80" width="16.00" height="3.00" fill="#1a6b50"/>
<rect x="62.00" y="567.80" width="16.00" height="3.80" fill="#1d9370"/>
<rect x="62.00" y="571.60" width="16.00" height="3.20" fill="#22c08f"/>
<rect x="62.00" y="574.80" width="16.00" height="3.20" fill="#3cdca9"/>
<rect x="62.00" y="578.00" width="16.00" height="3.00" fill="#68e2bd"/>
<rect x="62.00" y="581.00" width="16.00" height="5.10" fill="#97ebd1"/>
<rect x="62.00" y="586.10" width="16.00" height="3.00" fill="#75200e"/>
<rect x="62.00" y="589.10" width="16.00" height="3.40" fill="#9c2b15"/>
<rect x="62.00" y="592.50" width="16.00" height="3.40" fill="#c9391a"/>
<rect x="62.00" y="595.90" width="16.00" height="3.90" fill="#e55436"/>
<rect x="62.00" y="599.80" width="16.00" height="3.20" fill="#ef7a63"/>
<rect x="62.00" y="603.00" width="16.00" height="3.80" fill="#f4a08f"/>
<rect x="62.00" y="606.80" width="16.00" height="2.60" fill="#808080"/>
<line x1="62.00" x2="78.00" y1="458.70" y2="458.70" stroke="#fff" stroke-opacity="0.15" stroke-width="0.5"/>
<line x1="62.00" x2="78.00" y1="482.20" y2="482.20" stroke="#fff" stroke-opacity="0.15" stroke-width="0.5"/>
<line x1="62.00" x2="78.00" y1="494.90" y2="494.90" stroke="#fff" stroke-opacity="0.15" stroke-width="0.5"/>
<line x1="62.00" x2="78.00" y1="502.80" y2="502.80" stroke="#fff" stroke-opacity="0.15" stroke-width="0.5"/>
<line x1="62.00" x2="78.00" y1="520.40" y2="520.40" stroke="#fff" stroke-opacity="0.15" stroke-width="0.5"/>
<line x1="62.00" x2="78.00" y1="542.80" y2="542.80" stroke="#fff" stroke-opacity="0.15" stroke-width="0.5"/>
<line x1="62.00" x2="78.00" y1="546.00" y2="546.00" stroke="#fff" stroke-opacity="0.15" stroke-width="0.5"/>
<line x1="62.00" x2="78.00" y1="551.10" y2="551.10" stroke="#fff" stroke-opacity="0.15" stroke-width="0.5"/>
<line x1="62.00" x2="78.00" y1="554.30" y2="554.30" stroke="#fff" stroke-opacity="0.15" stroke-width="0.5"/>
<line x1="62.00" x2="78.00" y1="558.20" y2="558.20" stroke="#fff" stroke-opacity="0.15" stroke-width="0.5"/>
<line x1="62.00" x2="78.00" y1="562.00" y2="562.00" stroke="#fff" stroke-opacity="0.15" stroke-width="0.5"/>
<line x1="62.00" x2="78.00" y1="564.80" y2="564.80" stroke="#fff" stroke-opacity="0.15" stroke-width="0.5"/>
<line x1="62.00" x2="78.00" y1="567.80" y2="567.80" stroke="#fff" stroke-opacity="0.15" stroke-width="0.5"/>
<line x1="62.00" x2="78.00" y1="571.60" y2="571.60" stroke="#fff" stroke-opacity="0.15" stroke-width="0.5"/>
<line x1="62.00" x2="78.00" y1="574.80" y2="574.80" stroke="#fff" stroke-opacity="0.15" stroke-width="0.5"/>
<line x1="62.00" x2="78.00" y1="578.00" y2="578.00" stroke="#fff" stroke-opacity="0.15" stroke-width="0.5"/>
<line x1="62.00" x2="78.00" y1="581.00" y2="581.00" stroke="#fff" stroke-opacity="0.15" stroke-width="0.5"/>
<line x1="62.00" x2="78.00" y1="586.10" y2="586.10" stroke="#fff" stroke-opacity="0.15" stroke-width="0.5"/>
<line x1="62.00" x2="78.00" y1="589.10" y2="589.10" stroke="#fff" stroke-opacity="0.15" stroke-width="0.5"/>
<line x1="62.00" x2="78.00" y1="592.50" y2="592.50" stroke="#fff" stroke-opacity="0.15" stroke-width="0.5"/>
<line x1="62.00" x2="78.00" y1="595.90" y2="595.90" stroke="#fff" stroke-opacity="0.15" stroke-width="0.5"/>
<line x1="62.00" x2="78.00" y1="599.80" y2="599.80" stroke="#fff" stroke-opacity="0.15" stroke-width="0.5"/>
<line x1="62.00" x2="78.00" y1="603.00" y2="603.00" stroke="#fff" stroke-opacity="0.15" stroke-width="0.5"/>
<line x1="62.00" x2="78.00" y1="606.80" y2="606.80" stroke="#fff" stroke-opacity="0.15" stroke-width="0.5"/>
<rect x="79.70" y="454.80" width="16.00" height="74.40" fill="#3f3a76"/>
<rect x="79.70" y="529.20" width="16.00" height="4.60" fill="#504b95"/>
<rect x="79.70" y="533.80" width="16.00" height="3.20" fill="#6863ad"/>
<rect x="79.70" y="537.00" width="16.00" height="2.00" fill="#8d88c3"/>
<rect x="79.70" y="539.00" width="16.00" height="56.90" fill="#aeabd6"/>
<rect x="79.70" y="595.90" width="16.00" height="1.90" fill="#a86709"/>
<rect x="79.70" y="597.80" width="16.00" height="2.20" fill="#f7a321"/>
<rect x="79.70" y="600.00" width="16.00" height="1.00" fill="#f9b652"/>
<rect x="79.70" y="601.00" width="16.00" height="2.00" fill="#22c08f"/>
<rect x="79.70" y="603.00" width="16.00" height="1.90" fill="#3cdca9"/>
<rect x="79.70" y="604.90" width="16.00" height="1.10" fill="#75200e"/>
<rect x="79.70" y="606.00" width="16.00" height="0.80" fill="#9c2b15"/>
<rect x="79.70" y="606.80" width="16.00" height="1.20" fill="#e55436"/>
<rect x="79.70" y="608.00" width="16.00" height="1.40" fill="#ef7a63"/>
<line x1="79.70" x2="95.70" y1="529.20" y2="529.20" stroke="#fff" stroke-opacity="0.15" stroke-width="0.5"/>
<line x1="79.70" x2="95.70" y1="533.80" y2="533.80" stroke="#fff" stroke-opacity="0.15" stroke-width="0.5"/>
<line x1="79.70" x2="95.70" y1="537.00" y2="537.00" stroke="#fff" stroke-opacity="0.15" stroke-width="0.5"/>
<line x1="79.70" x2="95.70" y1="539.00" y2="539.00" stroke="#fff" stroke-opacity="0.15" stroke-width="0.5"/>
<line x1="79.70" x2="95.70" y1="595.90" y2="595.90" stroke="#fff" stroke-opacity="0.15" stroke-width="0.5"/>
<line x1="79.70" x2="95.70" y1="597.80" y2="597.80" stroke="#fff" stroke-opacity="0.15" stroke-width="0.5"/>
<line x1="79.70" x2="95.70" y1="600.00" y2="600.00" stroke="#fff" stroke-opacity="0.15" stroke-width="0.5"/>
<line x1="79.70" x2="95.70" y1="601.00" y2="601.00" stroke="#fff" stroke-opacity="0.15" stroke-width="0.5"/>
<line x1="79.70" x2="95.70" y1="603.00" y2="603.00" stroke="#fff" stroke-opacity="0.15" stroke-width="0.5"/>
<line x1="79.70" x2="95.70" y1="604.90" y2="604.90" stroke="#fff" stroke-opacity="0.15" stroke-width="0.5"/>
<line x1="79.70" x2="95.70" y1="606.00" y2="606.00" stroke="#fff" stroke-opacity="0.15" stroke-width="0.5"/>
<line x1="79.70" x2="95.70" y1="606.80" y2="606.80" stroke="#fff" stroke-opacity="0.15" stroke-width="0.5"/>
<line x1="79.70" x2="95.70" y1="608.00" y2="608.00" stroke="#fff" stroke-opacity="0.15" stroke-width="0.5"/>
<rect x="97.70" y="454.80" width="16.00" height="60.70" fill="#3f3a76"/>
<rect x="97.70" y="515.50" width="16.00" height="86.80" fill="#aeabd6"/>
<rect x="97.70" y="602.30" width="16.00" height="1.30" fill="#a86709"/>
<rect x="97.70" y="603.60" width="16.00" height="1.30" fill="#f7a321"/>
<rect x="97.70" y="604.90" width="16.00" height="1.90" fill="#3cdca9"/>
<rect x="97.70" y="606.80" width="16.00" height="1.20" fill="#c9391a"/>
<rect x="97.70" y="608.00" width="16.00" height="1.40" fill="#e55436"/>
<line x1="97.70" x2="113.70" y1="515.50" y2="515.50" stroke="#fff" stroke-opacity="0.15" stroke-width="0.5"/>
<line x1="97.70" x2="113.70" y1="602.30" y2="602.30" stroke="#fff" stroke-opacity="0.15" stroke-width="0.5"/>
<line x1="97.70" x2="113.70" y1="603.60" y2="603.60" stroke="#fff" stroke-opacity="0.15" stroke-width="0.5"/>
<line x1="97.70" x2="113.70" y1="604.90" y2="604.90" stroke="#fff" stroke-opacity="0.15" stroke-width="0.5"/>
<line x1="97.70" x2="113.70" y1="606.80" y2="606.80" stroke="#fff" stroke-opacity="0.15" stroke-width="0.5"/>
<line x1="97.70" x2="113.70" y1="608.00" y2="608.00" stroke="#fff" stroke-opacity="0.15" stroke-width="0.5"/>
<rect x="42.20" y="448.10" width="72.70" height="168.40" fill="none" stroke="#000" stroke-width="1.75"/>
<line x1="37.20" x2="41.35" y1="609.40" y2="609.40" stroke="#000" stroke-width="1.75"/>
<text x="0.00" y="0.00" font-size="9.2" text-anchor="end" fill="#262626" transform="translate(36.10,612.70) rotate(0.05)" stroke="#262626" stroke-width="0.15">0.00</text>
<line x1="37.20" x2="41.35" y1="570.75" y2="570.75" stroke="#000" stroke-width="1.75"/>
<text x="0.00" y="0.00" font-size="9.2" text-anchor="end" fill="#262626" transform="translate(36.10,574.05) rotate(0.05)" stroke="#262626" stroke-width="0.15">0.25</text>
<line x1="37.20" x2="41.35" y1="532.10" y2="532.10" stroke="#000" stroke-width="1.75"/>
<text x="0.00" y="0.00" font-size="9.2" text-anchor="end" fill="#262626" transform="translate(36.10,535.40) rotate(0.05)" stroke="#262626" stroke-width="0.15">0.50</text>
<line x1="37.20" x2="41.35" y1="493.45" y2="493.45" stroke="#000" stroke-width="1.75"/>
<text x="0.00" y="0.00" font-size="9.2" text-anchor="end" fill="#262626" transform="translate(36.10,496.75) rotate(0.05)" stroke="#262626" stroke-width="0.15">0.75</text>
<line x1="37.20" x2="41.35" y1="454.80" y2="454.80" stroke="#000" stroke-width="1.75"/>
<text x="0.00" y="0.00" font-size="9.2" text-anchor="end" fill="#262626" transform="translate(36.10,458.10) rotate(0.05)" stroke="#262626" stroke-width="0.15">1.00</text>
<line x1="52.05" x2="52.05" y1="616.50" y2="620.65" stroke="#000" stroke-width="1.75"/>
<text x="0.00" y="0.00" font-size="9.2" text-anchor="end" fill="#262626" transform="translate(56.75,630.05) rotate(-45)" stroke="#262626" stroke-width="0.15">ALL mix</text>
<line x1="70.00" x2="70.00" y1="616.50" y2="620.65" stroke="#000" stroke-width="1.75"/>
<text x="0.00" y="0.00" font-size="9.2" text-anchor="end" fill="#262626" transform="translate(74.70,630.05) rotate(-45)" stroke="#262626" stroke-width="0.15">TIG-0.25-20</text>
<line x1="87.70" x2="87.70" y1="616.50" y2="620.65" stroke="#000" stroke-width="1.75"/>
<text x="0.00" y="0.00" font-size="9.2" text-anchor="end" fill="#262626" transform="translate(92.40,630.05) rotate(-45)" stroke="#262626" stroke-width="0.15">TIG-0.5-20</text>
<line x1="105.70" x2="105.70" y1="616.50" y2="620.65" stroke="#000" stroke-width="1.75"/>
<text x="0.00" y="0.00" font-size="9.2" text-anchor="end" fill="#262626" transform="translate(110.40,630.05) rotate(-45)" stroke="#262626" stroke-width="0.15">TIG-2-48</text>
<text x="0.00" y="0.00" font-size="12.4" text-anchor="middle" font-weight="bold" fill="#000" transform="translate(17.50,532.30) rotate(-90)">rel. abundance</text>
<text x="0.00" y="0.00" font-size="21" text-anchor="start" font-weight="bold" fill="#000" transform="translate(-0.50,463.70) rotate(0.05)">c</text>
<rect x="393.50" y="8.90" width="16.00" height="20.70" fill="#1a6b50"/>
<rect x="393.50" y="29.60" width="16.00" height="24.30" fill="#1d9370"/>
<rect x="393.50" y="53.90" width="16.00" height="22.10" fill="#22c08f"/>
<rect x="393.50" y="76.00" width="16.00" height="25.00" fill="#3cdca9"/>
<rect x="393.50" y="101.00" width="16.00" height="17.50" fill="#68e2bd"/>
<rect x="393.50" y="118.50" width="16.00" height="27.70" fill="#97ebd1"/>
<rect x="393.50" y="146.20" width="16.00" height="17.20" fill="#808080"/>
<line x1="393.50" x2="409.50" y1="29.60" y2="29.60" stroke="#fff" stroke-opacity="0.15" stroke-width="0.5"/>
<line x1="393.50" x2="409.50" y1="53.90" y2="53.90" stroke="#fff" stroke-opacity="0.15" stroke-width="0.5"/>
<line x1="393.50" x2="409.50" y1="76.00" y2="76.00" stroke="#fff" stroke-opacity="0.15" stroke-width="0.5"/>
<line x1="393.50" x2="409.50" y1="101.00" y2="101.00" stroke="#fff" stroke-opacity="0.15" stroke-width="0.5"/>
<line x1="393.50" x2="409.50" y1="118.50" y2="118.50" stroke="#fff" stroke-opacity="0.15" stroke-width="0.5"/>
<line x1="393.50" x2="409.50" y1="146.20" y2="146.20" stroke="#fff" stroke-opacity="0.15" stroke-width="0.5"/>
<rect x="411.00" y="8.90" width="16.00" height="15.00" fill="#1a6b50"/>
<rect x="411.00" y="23.90" width="16.00" height="31.00" fill="#1d9370"/>
<rect x="411.00" y="54.90" width="16.00" height="22.00" fill="#22c08f"/>
<rect x="411.00" y="76.90" width="16.00" height="38.20" fill="#3cdca9"/>
<rect x="411.00" y="115.10" width="16.00" height="22.10" fill="#68e2bd"/>
<rect x="411.00" y="137.20" width="16.00" height="23.10" fill="#97ebd1"/>
<rect x="411.00" y="160.30" width="16.00" height="3.10" fill="#808080"/>
<line x1="411.00" x2="427.00" y1="23.90" y2="23.90" stroke="#fff" stroke-opacity="0.15" stroke-width="0.5"/>
<line x1="411.00" x2="427.00" y1="54.90" y2="54.90" stroke="#fff" stroke-opacity="0.15" stroke-width="0.5"/>
<line x1="411.00" x2="427.00" y1="76.90" y2="76.90" stroke="#fff" stroke-opacity="0.15" stroke-width="0.5"/>
<line x1="411.00" x2="427.00" y1="115.10" y2="115.10" stroke="#fff" stroke-opacity="0.15" stroke-width="0.5"/>
<line x1="411.00" x2="427.00" y1="137.20" y2="137.20" stroke="#fff" stroke-opacity="0.15" stroke-width="0.5"/>
<line x1="411.00" x2="427.00" y1="160.30" y2="160.30" stroke="#fff" stroke-opacity="0.15" stroke-width="0.5"/>
<rect x="428.90" y="8.90" width="16.00" height="10.80" fill="#1a6b50"/>
<rect x="428.90" y="19.70" width="16.00" height="41.00" fill="#1d9370"/>
<rect x="428.90" y="60.70" width="16.00" height="27.10" fill="#22c08f"/>
<rect x="428.90" y="87.80" width="16.00" height="47.80" fill="#3cdca9"/>
<rect x="428.90" y="135.60" width="16.00" height="13.40" fill="#68e2bd"/>
<rect x="428.90" y="149.00" width="16.00" height="11.80" fill="#97ebd1"/>
<rect x="428.90" y="160.80" width="16.00" height="2.60" fill="#808080"/>
<line x1="428.90" x2="444.90" y1="19.70" y2="19.70" stroke="#fff" stroke-opacity="0.15" stroke-width="0.5"/>
<line x1="428.90" x2="444.90" y1="60.70" y2="60.70" stroke="#fff" stroke-opacity="0.15" stroke-width="0.5"/>
<line x1="428.90" x2="444.90" y1="87.80" y2="87.80" stroke="#fff" stroke-opacity="0.15" stroke-width="0.5"/>
<line x1="428.90" x2="444.90" y1="135.60" y2="135.60" stroke="#fff" stroke-opacity="0.15" stroke-width="0.5"/>
<line x1="428.90" x2="444.90" y1="149.00" y2="149.00" stroke="#fff" stroke-opacity="0.15" stroke-width="0.5"/>
<line x1="428.90" x2="444.90" y1="160.80" y2="160.80" stroke="#fff" stroke-opacity="0.15" stroke-width="0.5"/>
<rect x="447.00" y="8.90" width="16.00" height="1.90" fill="#1a6b50"/>
<rect x="447.00" y="10.80" width="16.00" height="84.20" fill="#1d9370"/>
<rect x="447.00" y="95.00" width="16.00" height="43.80" fill="#22c08f"/>
<rect x="447.00" y="138.80" width="16.00" height="17.20" fill="#3cdca9"/>
<rect x="447.00" y="156.00" width="16.00" height="3.00" fill="#68e2bd"/>
<rect x="447.00" y="159.00" width="16.00" height="2.80" fill="#97ebd1"/>
<rect x="447.00" y="161.80" width="16.00" height="1.60" fill="#808080"/>
<line x1="447.00" x2="463.00" y1="10.80" y2="10.80" stroke="#fff" stroke-opacity="0.15" stroke-width="0.5"/>
<line x1="447.00" x2="463.00" y1="95.00" y2="95.00" stroke="#fff" stroke-opacity="0.15" stroke-width="0.5"/>
<line x1="447.00" x2="463.00" y1="138.80" y2="138.80" stroke="#fff" stroke-opacity="0.15" stroke-width="0.5"/>
<line x1="447.00" x2="463.00" y1="156.00" y2="156.00" stroke="#fff" stroke-opacity="0.15" stroke-width="0.5"/>
<line x1="447.00" x2="463.00" y1="159.00" y2="159.00" stroke="#fff" stroke-opacity="0.15" stroke-width="0.5"/>
<line x1="447.00" x2="463.00" y1="161.80" y2="161.80" stroke="#fff" stroke-opacity="0.15" stroke-width="0.5"/>
<rect x="391.90" y="2.10" width="72.90" height="168.40" fill="none" stroke="#000" stroke-width="1.75"/>
<line x1="386.90" x2="391.05" y1="163.40" y2="163.40" stroke="#000" stroke-width="1.75"/>
<text x="0.00" y="0.00" font-size="9.2" text-anchor="end" fill="#262626" transform="translate(385.80,166.70) rotate(0.05)" stroke="#262626" stroke-width="0.15">0.00</text>
<line x1="386.90" x2="391.05" y1="124.75" y2="124.75" stroke="#000" stroke-width="1.75"/>
<text x="0.00" y="0.00" font-size="9.2" text-anchor="end" fill="#262626" transform="translate(385.80,128.05) rotate(0.05)" stroke="#262626" stroke-width="0.15">0.25</text>
<line x1="386.90" x2="391.05" y1="86.10" y2="86.10" stroke="#000" stroke-width="1.75"/>
<text x="0.00" y="0.00" font-size="9.2" text-anchor="end" fill="#262626" transform="translate(385.80,89.40) rotate(0.05)" stroke="#262626" stroke-width="0.15">0.50</text>
<line x1="386.90" x2="391.05" y1="47.45" y2="47.45" stroke="#000" stroke-width="1.75"/>
<text x="0.00" y="0.00" font-size="9.2" text-anchor="end" fill="#262626" transform="translate(385.80,50.75) rotate(0.05)" stroke="#262626" stroke-width="0.15">0.75</text>
<line x1="386.90" x2="391.05" y1="8.80" y2="8.80" stroke="#000" stroke-width="1.75"/>
<text x="0.00" y="0.00" font-size="9.2" text-anchor="end" fill="#262626" transform="translate(385.80,12.10) rotate(0.05)" stroke="#262626" stroke-width="0.15">1.00</text>
<line x1="401.50" x2="401.50" y1="170.50" y2="174.65" stroke="#000" stroke-width="1.75"/>
<text x="0.00" y="0.00" font-size="9.2" text-anchor="end" fill="#262626" transform="translate(406.20,184.05) rotate(-45)" stroke="#262626" stroke-width="0.15">EFF mix</text>
<line x1="419.00" x2="419.00" y1="170.50" y2="174.65" stroke="#000" stroke-width="1.75"/>
<text x="0.00" y="0.00" font-size="9.2" text-anchor="end" fill="#262626" transform="translate(423.70,184.05) rotate(-45)" stroke="#262626" stroke-width="0.15">TET-0.5-20</text>
<line x1="436.90" x2="436.90" y1="170.50" y2="174.65" stroke="#000" stroke-width="1.75"/>
<text x="0.00" y="0.00" font-size="9.2" text-anchor="end" fill="#262626" transform="translate(441.60,184.05) rotate(-45)" stroke="#262626" stroke-width="0.15">TET-1-20</text>
<line x1="455.00" x2="455.00" y1="170.50" y2="174.65" stroke="#000" stroke-width="1.75"/>
<text x="0.00" y="0.00" font-size="9.2" text-anchor="end" fill="#262626" transform="translate(459.70,184.05) rotate(-45)" stroke="#262626" stroke-width="0.15">TET-4-20</text>
<text x="0.00" y="0.00" font-size="12.4" text-anchor="middle" font-weight="bold" fill="#000" transform="translate(366.80,86.30) rotate(-90)">rel. abundance</text>
<text x="0.00" y="0.00" font-size="21" text-anchor="start" font-weight="bold" fill="#000" transform="translate(350.30,16.00) rotate(0.05)">d</text>
<rect x="393.50" y="232.10" width="16.00" height="29.80" fill="#774606"/>
<rect x="393.50" y="261.90" width="16.00" height="21.90" fill="#a86709"/>
<rect x="393.50" y="283.80" width="16.00" height="25.10" fill="#e08a0a"/>
<rect x="393.50" y="308.90" width="16.00" height="23.20" fill="#f7a321"/>
<rect x="393.50" y="332.10" width="16.00" height="24.30" fill="#f9b652"/>
<rect x="393.50" y="356.40" width="16.00" height="14.70" fill="#fbcc88"/>
<rect x="393.50" y="371.10" width="16.00" height="15.50" fill="#808080"/>
<line x1="393.50" x2="409.50" y1="261.90" y2="261.90" stroke="#fff" stroke-opacity="0.15" stroke-width="0.5"/>
<line x1="393.50" x2="409.50" y1="283.80" y2="283.80" stroke="#fff" stroke-opacity="0.15" stroke-width="0.5"/>
<line x1="393.50" x2="409.50" y1="308.90" y2="308.90" stroke="#fff" stroke-opacity="0.15" stroke-width="0.5"/>
<line x1="393.50" x2="409.50" y1="332.10" y2="332.10" stroke="#fff" stroke-opacity="0.15" stroke-width="0.5"/>
<line x1="393.50" x2="409.50" y1="356.40" y2="356.40" stroke="#fff" stroke-opacity="0.15" stroke-width="0.5"/>
<line x1="393.50" x2="409.50" y1="371.10" y2="371.10" stroke="#fff" stroke-opacity="0.15" stroke-width="0.5"/>
<rect x="411.00" y="232.10" width="16.00" height="26.70" fill="#774606"/>
<rect x="411.00" y="258.80" width="16.00" height="34.80" fill="#a86709"/>
<rect x="411.00" y="293.60" width="16.00" height="12.60" fill="#e08a0a"/>
<rect x="411.00" y="306.20" width="16.00" height="26.80" fill="#f7a321"/>
<rect x="411.00" y="333.00" width="16.00" height="30.00" fill="#f9b652"/>
<rect x="411.00" y="363.00" width="16.00" height="20.30" fill="#fbcc88"/>
<rect x="411.00" y="383.30" width="16.00" height="3.30" fill="#808080"/>
<line x1="411.00" x2="427.00" y1="258.80" y2="258.80" stroke="#fff" stroke-opacity="0.15" stroke-width="0.5"/>
<line x1="411.00" x2="427.00" y1="293.60" y2="293.60" stroke="#fff" stroke-opacity="0.15" stroke-width="0.5"/>
<line x1="411.00" x2="427.00" y1="306.20" y2="306.20" stroke="#fff" stroke-opacity="0.15" stroke-width="0.5"/>
<line x1="411.00" x2="427.00" y1="333.00" y2="333.00" stroke="#fff" stroke-opacity="0.15" stroke-width="0.5"/>
<line x1="411.00" x2="427.00" y1="363.00" y2="363.00" stroke="#fff" stroke-opacity="0.15" stroke-width="0.5"/>
<line x1="411.00" x2="427.00" y1="383.30" y2="383.30" stroke="#fff" stroke-opacity="0.15" stroke-width="0.5"/>
<rect x="428.90" y="232.10" width="16.00" height="23.70" fill="#774606"/>
<rect x="428.90" y="255.80" width="16.00" height="40.80" fill="#a86709"/>
<rect x="428.90" y="296.60" width="16.00" height="6.20" fill="#e08a0a"/>
<rect x="428.90" y="302.80" width="16.00" height="34.40" fill="#f7a321"/>
<rect x="428.90" y="337.20" width="16.00" height="28.70" fill="#f9b652"/>
<rect x="428.90" y="365.90" width="16.00" height="18.30" fill="#fbcc88"/>
<rect x="428.90" y="384.20" width="16.00" height="2.40" fill="#808080"/>
<line x1="428.90" x2="444.90" y1="255.80" y2="255.80" stroke="#fff" stroke-opacity="0.15" stroke-width="0.5"/>
<line x1="428.90" x2="444.90" y1="296.60" y2="296.60" stroke="#fff" stroke-opacity="0.15" stroke-width="0.5"/>
<line x1="428.90" x2="444.90" y1="302.80" y2="302.80" stroke="#fff" stroke-opacity="0.15" stroke-width="0.5"/>
<line x1="428.90" x2="444.90" y1="337.20" y2="337.20" stroke="#fff" stroke-opacity="0.15" stroke-width="0.5"/>
<line x1="428.90" x2="444.90" y1="365.90" y2="365.90" stroke="#fff" stroke-opacity="0.15" stroke-width="0.5"/>
<line x1="428.90" x2="444.90" y1="384.20" y2="384.20" stroke="#fff" stroke-opacity="0.15" stroke-width="0.5"/>
<rect x="447.00" y="232.10" width="16.00" height="8.30" fill="#774606"/>
<rect x="447.00" y="240.40" width="16.00" height="41.90" fill="#a86709"/>
<rect x="447.00" y="282.30" width="16.00" height="3.50" fill="#e08a0a"/>
<rect x="447.00" y="285.80" width="16.00" height="78.30" fill="#f7a321"/>
<rect x="447.00" y="364.10" width="16.00" height="11.70" fill="#f9b652"/>
<rect x="447.00" y="375.80" width="16.00" height="9.30" fill="#fbcc88"/>
<rect x="447.00" y="385.10" width="16.00" height="1.50" fill="#808080"/>
<line x1="447.00" x2="463.00" y1="240.40" y2="240.40" stroke="#fff" stroke-opacity="0.15" stroke-width="0.5"/>
<line x1="447.00" x2="463.00" y1="282.30" y2="282.30" stroke="#fff" stroke-opacity="0.15" stroke-width="0.5"/>
<line x1="447.00" x2="463.00" y1="285.80" y2="285.80" stroke="#fff" stroke-opacity="0.15" stroke-width="0.5"/>
<line x1="447.00" x2="463.00" y1="364.10" y2="364.10" stroke="#fff" stroke-opacity="0.15" stroke-width="0.5"/>
<line x1="447.00" x2="463.00" y1="375.80" y2="375.80" stroke="#fff" stroke-opacity="0.15" stroke-width="0.5"/>
<line x1="447.00" x2="463.00" y1="385.10" y2="385.10" stroke="#fff" stroke-opacity="0.15" stroke-width="0.5"/>
<rect x="391.90" y="225.20" width="72.90" height="168.40" fill="none" stroke="#000" stroke-width="1.75"/>
<line x1="386.90" x2="391.05" y1="386.50" y2="386.50" stroke="#000" stroke-width="1.75"/>
<text x="0.00" y="0.00" font-size="9.2" text-anchor="end" fill="#262626" transform="translate(385.80,389.80) rotate(0.05)" stroke="#262626" stroke-width="0.15">0.00</text>
<line x1="386.90" x2="391.05" y1="347.85" y2="347.85" stroke="#000" stroke-width="1.75"/>
<text x="0.00" y="0.00" font-size="9.2" text-anchor="end" fill="#262626" transform="translate(385.80,351.15) rotate(0.05)" stroke="#262626" stroke-width="0.15">0.25</text>
<line x1="386.90" x2="391.05" y1="309.20" y2="309.20" stroke="#000" stroke-width="1.75"/>
<text x="0.00" y="0.00" font-size="9.2" text-anchor="end" fill="#262626" transform="translate(385.80,312.50) rotate(0.05)" stroke="#262626" stroke-width="0.15">0.50</text>
<line x1="386.90" x2="391.05" y1="270.55" y2="270.55" stroke="#000" stroke-width="1.75"/>
<text x="0.00" y="0.00" font-size="9.2" text-anchor="end" fill="#262626" transform="translate(385.80,273.85) rotate(0.05)" stroke="#262626" stroke-width="0.15">0.75</text>
<line x1="386.90" x2="391.05" y1="231.90" y2="231.90" stroke="#000" stroke-width="1.75"/>
<text x="0.00" y="0.00" font-size="9.2" text-anchor="end" fill="#262626" transform="translate(385.80,235.20) rotate(0.05)" stroke="#262626" stroke-width="0.15">1.00</text>
<line x1="401.50" x2="401.50" y1="393.60" y2="397.75" stroke="#000" stroke-width="1.75"/>
<text x="0.00" y="0.00" font-size="9.2" text-anchor="end" fill="#262626" transform="translate(406.20,407.15) rotate(-45)" stroke="#262626" stroke-width="0.15">RPP mix</text>
<line x1="419.00" x2="419.00" y1="393.60" y2="397.75" stroke="#000" stroke-width="1.75"/>
<text x="0.00" y="0.00" font-size="9.2" text-anchor="end" fill="#262626" transform="translate(423.70,407.15) rotate(-45)" stroke="#262626" stroke-width="0.15">DOX-0.5-20</text>
<line x1="436.90" x2="436.90" y1="393.60" y2="397.75" stroke="#000" stroke-width="1.75"/>
<text x="0.00" y="0.00" font-size="9.2" text-anchor="end" fill="#262626" transform="translate(441.60,407.15) rotate(-45)" stroke="#262626" stroke-width="0.15">DOX-1-20</text>
<line x1="455.00" x2="455.00" y1="393.60" y2="397.75" stroke="#000" stroke-width="1.75"/>
<text x="0.00" y="0.00" font-size="9.2" text-anchor="end" fill="#262626" transform="translate(459.70,407.15) rotate(-45)" stroke="#262626" stroke-width="0.15">DOX-4-20</text>
<text x="0.00" y="0.00" font-size="12.4" text-anchor="middle" font-weight="bold" fill="#000" transform="translate(366.80,309.40) rotate(-90)">rel. abundance</text>
<text x="0.00" y="0.00" font-size="21" text-anchor="start" font-weight="bold" fill="#000" transform="translate(350.30,242.30) rotate(0.05)">e</text>
<rect x="393.50" y="454.80" width="16.00" height="23.90" fill="#2e2a55"/>
<rect x="393.50" y="478.70" width="16.00" height="25.20" fill="#3f3a76"/>
<rect x="393.50" y="503.90" width="16.00" height="18.40" fill="#504b95"/>
<rect x="393.50" y="522.30" width="16.00" height="16.70" fill="#6863ad"/>
<rect x="393.50" y="539.00" width="16.00" height="26.80" fill="#8d88c3"/>
<rect x="393.50" y="565.80" width="16.00" height="25.00" fill="#aeabd6"/>
<rect x="393.50" y="590.80" width="16.00" height="18.60" fill="#808080"/>
<line x1="393.50" x2="409.50" y1="478.70" y2="478.70" stroke="#fff" stroke-opacity="0.15" stroke-width="0.5"/>
<line x1="393.50" x2="409.50" y1="503.90" y2="503.90" stroke="#fff" stroke-opacity="0.15" stroke-width="0.5"/>
<line x1="393.50" x2="409.50" y1="522.30" y2="522.30" stroke="#fff" stroke-opacity="0.15" stroke-width="0.5"/>
<line x1="393.50" x2="409.50" y1="539.00" y2="539.00" stroke="#fff" stroke-opacity="0.15" stroke-width="0.5"/>
<line x1="393.50" x2="409.50" y1="565.80" y2="565.80" stroke="#fff" stroke-opacity="0.15" stroke-width="0.5"/>
<line x1="393.50" x2="409.50" y1="590.80" y2="590.80" stroke="#fff" stroke-opacity="0.15" stroke-width="0.5"/>
<rect x="411.00" y="454.80" width="16.00" height="8.20" fill="#2e2a55"/>
<rect x="411.00" y="463.00" width="16.00" height="47.80" fill="#3f3a76"/>
<rect x="411.00" y="510.80" width="16.00" height="25.00" fill="#504b95"/>
<rect x="411.00" y="535.80" width="16.00" height="11.50" fill="#6863ad"/>
<rect x="411.00" y="547.30" width="16.00" height="27.50" fill="#8d88c3"/>
<rect x="411.00" y="574.80" width="16.00" height="31.40" fill="#aeabd6"/>
<rect x="411.00" y="606.20" width="16.00" height="3.20" fill="#808080"/>
<line x1="411.00" x2="427.00" y1="463.00" y2="463.00" stroke="#fff" stroke-opacity="0.15" stroke-width="0.5"/>
<line x1="411.00" x2="427.00" y1="510.80" y2="510.80" stroke="#fff" stroke-opacity="0.15" stroke-width="0.5"/>
<line x1="411.00" x2="427.00" y1="535.80" y2="535.80" stroke="#fff" stroke-opacity="0.15" stroke-width="0.5"/>
<line x1="411.00" x2="427.00" y1="547.30" y2="547.30" stroke="#fff" stroke-opacity="0.15" stroke-width="0.5"/>
<line x1="411.00" x2="427.00" y1="574.80" y2="574.80" stroke="#fff" stroke-opacity="0.15" stroke-width="0.5"/>
<line x1="411.00" x2="427.00" y1="606.20" y2="606.20" stroke="#fff" stroke-opacity="0.15" stroke-width="0.5"/>
<rect x="428.90" y="454.80" width="16.00" height="2.50" fill="#2e2a55"/>
<rect x="428.90" y="457.30" width="16.00" height="78.50" fill="#3f3a76"/>
<rect x="428.90" y="535.80" width="16.00" height="10.20" fill="#504b95"/>
<rect x="428.90" y="546.00" width="16.00" height="5.80" fill="#6863ad"/>
<rect x="428.90" y="551.80" width="16.00" height="7.40" fill="#8d88c3"/>
<rect x="428.90" y="559.20" width="16.00" height="48.90" fill="#aeabd6"/>
<rect x="428.90" y="608.10" width="16.00" height="1.30" fill="#808080"/>
<line x1="428.90" x2="444.90" y1="457.30" y2="457.30" stroke="#fff" stroke-opacity="0.15" stroke-width="0.5"/>
<line x1="428.90" x2="444.90" y1="535.80" y2="535.80" stroke="#fff" stroke-opacity="0.15" stroke-width="0.5"/>
<line x1="428.90" x2="444.90" y1="546.00" y2="546.00" stroke="#fff" stroke-opacity="0.15" stroke-width="0.5"/>
<line x1="428.90" x2="444.90" y1="551.80" y2="551.80" stroke="#fff" stroke-opacity="0.15" stroke-width="0.5"/>
<line x1="428.90" x2="444.90" y1="559.20" y2="559.20" stroke="#fff" stroke-opacity="0.15" stroke-width="0.5"/>
<line x1="428.90" x2="444.90" y1="608.10" y2="608.10" stroke="#fff" stroke-opacity="0.15" stroke-width="0.5"/>
<rect x="447.00" y="454.80" width="16.00" height="54.60" fill="#3f3a76"/>
<rect x="447.00" y="509.40" width="16.00" height="1.00" fill="#6863ad"/>
<rect x="447.00" y="510.40" width="16.00" height="1.00" fill="#8d88c3"/>
<rect x="447.00" y="511.40" width="16.00" height="97.60" fill="#aeabd6"/>
<rect x="447.00" y="609.00" width="16.00" height="0.40" fill="#808080"/>
<line x1="447.00" x2="463.00" y1="509.40" y2="509.40" stroke="#fff" stroke-opacity="0.15" stroke-width="0.5"/>
<line x1="447.00" x2="463.00" y1="510.40" y2="510.40" stroke="#fff" stroke-opacity="0.15" stroke-width="0.5"/>
<line x1="447.00" x2="463.00" y1="511.40" y2="511.40" stroke="#fff" stroke-opacity="0.15" stroke-width="0.5"/>
<line x1="447.00" x2="463.00" y1="609.00" y2="609.00" stroke="#fff" stroke-opacity="0.15" stroke-width="0.5"/>
<rect x="391.90" y="448.10" width="72.90" height="168.40" fill="none" stroke="#000" stroke-width="1.75"/>
<line x1="386.90" x2="391.05" y1="609.40" y2="609.40" stroke="#000" stroke-width="1.75"/>
<text x="0.00" y="0.00" font-size="9.2" text-anchor="end" fill="#262626" transform="translate(385.80,612.70) rotate(0.05)" stroke="#262626" stroke-width="0.15">0.00</text>
<line x1="386.90" x2="391.05" y1="570.75" y2="570.75" stroke="#000" stroke-width="1.75"/>
<text x="0.00" y="0.00" font-size="9.2" text-anchor="end" fill="#262626" transform="translate(385.80,574.05) rotate(0.05)" stroke="#262626" stroke-width="0.15">0.25</text>
<line x1="386.90" x2="391.05" y1="532.10" y2="532.10" stroke="#000" stroke-width="1.75"/>
<text x="0.00" y="0.00" font-size="9.2" text-anchor="end" fill="#262626" transform="translate(385.80,535.40) rotate(0.05)" stroke="#262626" stroke-width="0.15">0.50</text>
<line x1="386.90" x2="391.05" y1="493.45" y2="493.45" stroke="#000" stroke-width="1.75"/>
<text x="0.00" y="0.00" font-size="9.2" text-anchor="end" fill="#262626" transform="translate(385.80,496.75) rotate(0.05)" stroke="#262626" stroke-width="0.15">0.75</text>
<line x1="386.90" x2="391.05" y1="454.80" y2="454.80" stroke="#000" stroke-width="1.75"/>
<text x="0.00" y="0.00" font-size="9.2" text-anchor="end" fill="#262626" transform="translate(385.80,458.10) rotate(0.05)" stroke="#262626" stroke-width="0.15">1.00</text>
<line x1="401.50" x2="401.50" y1="616.50" y2="620.65" stroke="#000" stroke-width="1.75"/>
<text x="0.00" y="0.00" font-size="9.2" text-anchor="end" fill="#262626" transform="translate(406.20,630.05) rotate(-45)" stroke="#262626" stroke-width="0.15">DES1 mix</text>
<line x1="419.00" x2="419.00" y1="616.50" y2="620.65" stroke="#000" stroke-width="1.75"/>
<text x="0.00" y="0.00" font-size="9.2" text-anchor="end" fill="#262626" transform="translate(423.70,630.05) rotate(-45)" stroke="#262626" stroke-width="0.15">TIG-0.25-20</text>
<line x1="436.90" x2="436.90" y1="616.50" y2="620.65" stroke="#000" stroke-width="1.75"/>
<text x="0.00" y="0.00" font-size="9.2" text-anchor="end" fill="#262626" transform="translate(441.60,630.05) rotate(-45)" stroke="#262626" stroke-width="0.15">TIG-0.5-48</text>
<line x1="455.00" x2="455.00" y1="616.50" y2="620.65" stroke="#000" stroke-width="1.75"/>
<text x="0.00" y="0.00" font-size="9.2" text-anchor="end" fill="#262626" transform="translate(459.70,630.05) rotate(-45)" stroke="#262626" stroke-width="0.15">TIG-2-48</text>
<text x="0.00" y="0.00" font-size="12.4" text-anchor="middle" font-weight="bold" fill="#000" transform="translate(366.80,532.30) rotate(-90)">rel. abundance</text>
<text x="0.00" y="0.00" font-size="21" text-anchor="start" font-weight="bold" fill="#000" transform="translate(350.30,463.70) rotate(0.05)">f</text>
<clipPath id="cpa155"><rect x="154.70" y="2.10" width="72.50" height="168.40"/></clipPath>
<g clip-path="url(#cpa155)">
<polyline points="164.20,130.60 182.00,132.35 199.50,130.60 217.20,147.73" fill="none" stroke="#7570b3" stroke-width="1.5" stroke-linejoin="round"/>
<polyline points="164.20,130.60 182.00,105.09 199.50,85.16 217.20,46.72" fill="none" stroke="#1b9e77" stroke-width="1.5" stroke-linejoin="round"/>
<polyline points="164.20,130.60 182.00,147.38 199.50,155.76 217.20,161.71" fill="none" stroke="#e25330" stroke-width="1.5" stroke-linejoin="round"/>
<polyline points="164.20,130.60 182.00,160.31 199.50,161.01 217.20,163.10" fill="none" stroke="#808080" stroke-width="1.5" stroke-linejoin="round"/>
<polyline points="164.20,130.60 182.00,131.65 199.50,143.53 217.20,157.86" fill="none" stroke="#fcc466" stroke-width="1.5" stroke-linejoin="round"/>
<line x1="182.00" x2="182.00" y1="101.24" y2="108.93" stroke="#1b9e77" stroke-width="1.3"/>
<line x1="180.60" x2="183.40" y1="101.24" y2="101.24" stroke="#1b9e77" stroke-width="1.3"/>
<line x1="180.60" x2="183.40" y1="108.93" y2="108.93" stroke="#1b9e77" stroke-width="1.3"/>
<circle cx="164.20" cy="130.60" r="3.4" fill="#7570b3"/>
<circle cx="182.00" cy="132.35" r="3.4" fill="#7570b3"/>
<circle cx="199.50" cy="130.60" r="3.4" fill="#7570b3"/>
<circle cx="217.20" cy="147.73" r="3.4" fill="#7570b3"/>
<circle cx="164.20" cy="130.60" r="3.4" fill="#1b9e77"/>
<circle cx="182.00" cy="105.09" r="3.4" fill="#1b9e77"/>
<circle cx="199.50" cy="85.16" r="3.4" fill="#1b9e77"/>
<circle cx="217.20" cy="46.72" r="3.4" fill="#1b9e77"/>
<circle cx="164.20" cy="130.60" r="3.4" fill="#e25330"/>
<circle cx="182.00" cy="147.38" r="3.4" fill="#e25330"/>
<circle cx="199.50" cy="155.76" r="3.4" fill="#e25330"/>
<circle cx="217.20" cy="161.71" r="3.4" fill="#e25330"/>
<circle cx="164.20" cy="130.60" r="3.4" fill="#808080"/>
<circle cx="182.00" cy="160.31" r="3.4" fill="#808080"/>
<circle cx="199.50" cy="161.01" r="3.4" fill="#808080"/>
<circle cx="217.20" cy="163.10" r="3.4" fill="#808080"/>
<circle cx="164.20" cy="130.60" r="3.4" fill="#fcc466"/>
<circle cx="182.00" cy="131.65" r="3.4" fill="#fcc466"/>
<circle cx="199.50" cy="143.53" r="3.4" fill="#fcc466"/>
<circle cx="217.20" cy="157.86" r="3.4" fill="#fcc466"/>
</g>
<rect x="154.70" y="2.10" width="72.50" height="168.40" fill="none" stroke="#000" stroke-width="1.75"/>
<line x1="149.70" x2="153.85" y1="165.55" y2="165.55" stroke="#000" stroke-width="1.75"/>
<text x="0.00" y="0.00" font-size="9.2" text-anchor="end" fill="#262626" transform="translate(148.60,168.85) rotate(0.05)" stroke="#262626" stroke-width="0.15">-100</text>
<line x1="149.70" x2="153.85" y1="130.60" y2="130.60" stroke="#000" stroke-width="1.75"/>
<text x="0.00" y="0.00" font-size="9.2" text-anchor="end" fill="#262626" transform="translate(148.60,133.90) rotate(0.05)" stroke="#262626" stroke-width="0.15">0</text>
<line x1="149.70" x2="153.85" y1="95.65" y2="95.65" stroke="#000" stroke-width="1.75"/>
<text x="0.00" y="0.00" font-size="9.2" text-anchor="end" fill="#262626" transform="translate(148.60,98.95) rotate(0.05)" stroke="#262626" stroke-width="0.15">100</text>
<line x1="149.70" x2="153.85" y1="60.70" y2="60.70" stroke="#000" stroke-width="1.75"/>
<text x="0.00" y="0.00" font-size="9.2" text-anchor="end" fill="#262626" transform="translate(148.60,64.00) rotate(0.05)" stroke="#262626" stroke-width="0.15">200</text>
<line x1="149.70" x2="153.85" y1="25.75" y2="25.75" stroke="#000" stroke-width="1.75"/>
<text x="0.00" y="0.00" font-size="9.2" text-anchor="end" fill="#262626" transform="translate(148.60,29.05) rotate(0.05)" stroke="#262626" stroke-width="0.15">300</text>
<line x1="164.20" x2="164.20" y1="170.50" y2="174.65" stroke="#000" stroke-width="1.75"/>
<text x="0.00" y="0.00" font-size="9.2" text-anchor="end" fill="#262626" transform="translate(168.90,184.05) rotate(-45)" stroke="#262626" stroke-width="0.15">ALL mix</text>
<line x1="182.00" x2="182.00" y1="170.50" y2="174.65" stroke="#000" stroke-width="1.75"/>
<text x="0.00" y="0.00" font-size="9.2" text-anchor="end" fill="#262626" transform="translate(186.70,184.05) rotate(-45)" stroke="#262626" stroke-width="0.15">TET-0.5-20</text>
<line x1="199.50" x2="199.50" y1="170.50" y2="174.65" stroke="#000" stroke-width="1.75"/>
<text x="0.00" y="0.00" font-size="9.2" text-anchor="end" fill="#262626" transform="translate(204.20,184.05) rotate(-45)" stroke="#262626" stroke-width="0.15">TET-1-20</text>
<line x1="217.20" x2="217.20" y1="170.50" y2="174.65" stroke="#000" stroke-width="1.75"/>
<text x="0.00" y="0.00" font-size="9.2" text-anchor="end" fill="#262626" transform="translate(221.90,184.05) rotate(-45)" stroke="#262626" stroke-width="0.15">TET-4-20</text>
<text x="0.00" y="0.00" font-size="12.4" text-anchor="middle" font-weight="bold" fill="#000" transform="translate(128.70,86.30) rotate(-90)">% change</text>
<clipPath id="cpb155"><rect x="154.70" y="225.20" width="72.50" height="168.40"/></clipPath>
<g clip-path="url(#cpb155)">
<polyline points="164.20,354.20 182.00,354.20 199.50,360.49 217.20,378.66" fill="none" stroke="#7570b3" stroke-width="1.5" stroke-linejoin="round"/>
<polyline points="164.20,354.20 182.00,358.39 199.50,367.48 217.20,383.91" fill="none" stroke="#1b9e77" stroke-width="1.5" stroke-linejoin="round"/>
<polyline points="164.20,354.20 182.00,375.87 199.50,382.51 217.20,385.65" fill="none" stroke="#e25330" stroke-width="1.5" stroke-linejoin="round"/>
<polyline points="164.20,354.20 182.00,378.32 199.50,382.16 217.20,386.35" fill="none" stroke="#808080" stroke-width="1.5" stroke-linejoin="round"/>
<polyline points="164.20,354.20 182.00,327.29 199.50,307.37 217.20,274.51" fill="none" stroke="#fcc466" stroke-width="1.5" stroke-linejoin="round"/>
<line x1="182.00" x2="182.00" y1="353.50" y2="363.29" stroke="#1b9e77" stroke-width="1.3"/>
<line x1="180.60" x2="183.40" y1="353.50" y2="353.50" stroke="#1b9e77" stroke-width="1.3"/>
<line x1="180.60" x2="183.40" y1="363.29" y2="363.29" stroke="#1b9e77" stroke-width="1.3"/>
<line x1="199.50" x2="199.50" y1="363.29" y2="371.68" stroke="#1b9e77" stroke-width="1.3"/>
<line x1="198.10" x2="200.90" y1="363.29" y2="363.29" stroke="#1b9e77" stroke-width="1.3"/>
<line x1="198.10" x2="200.90" y1="371.68" y2="371.68" stroke="#1b9e77" stroke-width="1.3"/>
<line x1="182.00" x2="182.00" y1="321.35" y2="333.23" stroke="#fcc466" stroke-width="1.3"/>
<line x1="180.60" x2="183.40" y1="321.35" y2="321.35" stroke="#fcc466" stroke-width="1.3"/>
<line x1="180.60" x2="183.40" y1="333.23" y2="333.23" stroke="#fcc466" stroke-width="1.3"/>
<line x1="199.50" x2="199.50" y1="301.08" y2="313.66" stroke="#fcc466" stroke-width="1.3"/>
<line x1="198.10" x2="200.90" y1="301.08" y2="301.08" stroke="#fcc466" stroke-width="1.3"/>
<line x1="198.10" x2="200.90" y1="313.66" y2="313.66" stroke="#fcc466" stroke-width="1.3"/>
<line x1="217.20" x2="217.20" y1="268.92" y2="280.11" stroke="#fcc466" stroke-width="1.3"/>
<line x1="215.80" x2="218.60" y1="268.92" y2="268.92" stroke="#fcc466" stroke-width="1.3"/>
<line x1="215.80" x2="218.60" y1="280.11" y2="280.11" stroke="#fcc466" stroke-width="1.3"/>
<circle cx="164.20" cy="354.20" r="3.4" fill="#7570b3"/>
<circle cx="182.00" cy="354.20" r="3.4" fill="#7570b3"/>
<circle cx="199.50" cy="360.49" r="3.4" fill="#7570b3"/>
<circle cx="217.20" cy="378.66" r="3.4" fill="#7570b3"/>
<circle cx="164.20" cy="354.20" r="3.4" fill="#1b9e77"/>
<circle cx="182.00" cy="358.39" r="3.4" fill="#1b9e77"/>
<circle cx="199.50" cy="367.48" r="3.4" fill="#1b9e77"/>
<circle cx="217.20" cy="383.91" r="3.4" fill="#1b9e77"/>
<circle cx="164.20" cy="354.20" r="3.4" fill="#e25330"/>
<circle cx="182.00" cy="375.87" r="3.4" fill="#e25330"/>
<circle cx="199.50" cy="382.51" r="3.4" fill="#e25330"/>
<circle cx="217.20" cy="385.65" r="3.4" fill="#e25330"/>
<circle cx="164.20" cy="354.20" r="3.4" fill="#808080"/>
<circle cx="182.00" cy="378.32" r="3.4" fill="#808080"/>
<circle cx="199.50" cy="382.16" r="3.4" fill="#808080"/>
<circle cx="217.20" cy="386.35" r="3.4" fill="#808080"/>
<circle cx="164.20" cy="354.20" r="3.4" fill="#fcc466"/>
<circle cx="182.00" cy="327.29" r="3.4" fill="#fcc466"/>
<circle cx="199.50" cy="307.37" r="3.4" fill="#fcc466"/>
<circle cx="217.20" cy="274.51" r="3.4" fill="#fcc466"/>
</g>
<rect x="154.70" y="225.20" width="72.50" height="168.40" fill="none" stroke="#000" stroke-width="1.75"/>
<line x1="149.70" x2="153.85" y1="389.15" y2="389.15" stroke="#000" stroke-width="1.75"/>
<text x="0.00" y="0.00" font-size="9.2" text-anchor="end" fill="#262626" transform="translate(148.60,392.45) rotate(0.05)" stroke="#262626" stroke-width="0.15">-100</text>
<line x1="149.70" x2="153.85" y1="354.20" y2="354.20" stroke="#000" stroke-width="1.75"/>
<text x="0.00" y="0.00" font-size="9.2" text-anchor="end" fill="#262626" transform="translate(148.60,357.50) rotate(0.05)" stroke="#262626" stroke-width="0.15">0</text>
<line x1="149.70" x2="153.85" y1="319.25" y2="319.25" stroke="#000" stroke-width="1.75"/>
<text x="0.00" y="0.00" font-size="9.2" text-anchor="end" fill="#262626" transform="translate(148.60,322.55) rotate(0.05)" stroke="#262626" stroke-width="0.15">100</text>
<line x1="149.70" x2="153.85" y1="284.30" y2="284.30" stroke="#000" stroke-width="1.75"/>
<text x="0.00" y="0.00" font-size="9.2" text-anchor="end" fill="#262626" transform="translate(148.60,287.60) rotate(0.05)" stroke="#262626" stroke-width="0.15">200</text>
<line x1="149.70" x2="153.85" y1="249.35" y2="249.35" stroke="#000" stroke-width="1.75"/>
<text x="0.00" y="0.00" font-size="9.2" text-anchor="end" fill="#262626" transform="translate(148.60,252.65) rotate(0.05)" stroke="#262626" stroke-width="0.15">300</text>
<line x1="164.20" x2="164.20" y1="393.60" y2="397.75" stroke="#000" stroke-width="1.75"/>
<text x="0.00" y="0.00" font-size="9.2" text-anchor="end" fill="#262626" transform="translate(168.90,407.15) rotate(-45)" stroke="#262626" stroke-width="0.15">ALL mix</text>
<line x1="182.00" x2="182.00" y1="393.60" y2="397.75" stroke="#000" stroke-width="1.75"/>
<text x="0.00" y="0.00" font-size="9.2" text-anchor="end" fill="#262626" transform="translate(186.70,407.15) rotate(-45)" stroke="#262626" stroke-width="0.15">DOX-0.5-20</text>
<line x1="199.50" x2="199.50" y1="393.60" y2="397.75" stroke="#000" stroke-width="1.75"/>
<text x="0.00" y="0.00" font-size="9.2" text-anchor="end" fill="#262626" transform="translate(204.20,407.15) rotate(-45)" stroke="#262626" stroke-width="0.15">DOX-1-20</text>
<line x1="217.20" x2="217.20" y1="393.60" y2="397.75" stroke="#000" stroke-width="1.75"/>
<text x="0.00" y="0.00" font-size="9.2" text-anchor="end" fill="#262626" transform="translate(221.90,407.15) rotate(-45)" stroke="#262626" stroke-width="0.15">DOX-4-20</text>
<text x="0.00" y="0.00" font-size="12.4" text-anchor="middle" font-weight="bold" fill="#000" transform="translate(128.70,309.40) rotate(-90)">% change</text>
<clipPath id="cpc155"><rect x="154.70" y="448.10" width="72.50" height="168.40"/></clipPath>
<g clip-path="url(#cpc155)">
<polyline points="164.20,577.10 182.00,521.18 199.50,467.01 217.20,460.02" fill="none" stroke="#7570b3" stroke-width="1.5" stroke-linejoin="round"/>
<polyline points="164.20,577.10 182.00,591.78 199.50,607.51 217.20,609.25" fill="none" stroke="#1b9e77" stroke-width="1.5" stroke-linejoin="round"/>
<polyline points="164.20,577.10 182.00,592.83 199.50,607.86 217.20,609.60" fill="none" stroke="#e25330" stroke-width="1.5" stroke-linejoin="round"/>
<polyline points="164.20,577.10 182.00,592.83 199.50,607.86 217.20,609.60" fill="none" stroke="#808080" stroke-width="1.5" stroke-linejoin="round"/>
<polyline points="164.20,577.10 182.00,592.83 199.50,607.86 217.20,609.60" fill="none" stroke="#fcc466" stroke-width="1.5" stroke-linejoin="round"/>
<line x1="182.00" x2="182.00" y1="510.70" y2="531.67" stroke="#7570b3" stroke-width="1.3"/>
<line x1="180.60" x2="183.40" y1="510.70" y2="510.70" stroke="#7570b3" stroke-width="1.3"/>
<line x1="180.60" x2="183.40" y1="531.67" y2="531.67" stroke="#7570b3" stroke-width="1.3"/>
<line x1="199.50" x2="199.50" y1="464.21" y2="469.80" stroke="#7570b3" stroke-width="1.3"/>
<line x1="198.10" x2="200.90" y1="464.21" y2="464.21" stroke="#7570b3" stroke-width="1.3"/>
<line x1="198.10" x2="200.90" y1="469.80" y2="469.80" stroke="#7570b3" stroke-width="1.3"/>
<line x1="182.00" x2="182.00" y1="588.98" y2="594.58" stroke="#1b9e77" stroke-width="1.3"/>
<line x1="180.60" x2="183.40" y1="588.98" y2="588.98" stroke="#1b9e77" stroke-width="1.3"/>
<line x1="180.60" x2="183.40" y1="594.58" y2="594.58" stroke="#1b9e77" stroke-width="1.3"/>
<line x1="182.00" x2="182.00" y1="590.03" y2="595.62" stroke="#fcc466" stroke-width="1.3"/>
<line x1="180.60" x2="183.40" y1="590.03" y2="590.03" stroke="#fcc466" stroke-width="1.3"/>
<line x1="180.60" x2="183.40" y1="595.62" y2="595.62" stroke="#fcc466" stroke-width="1.3"/>
<circle cx="164.20" cy="577.10" r="3.4" fill="#7570b3"/>
<circle cx="182.00" cy="521.18" r="3.4" fill="#7570b3"/>
<circle cx="199.50" cy="467.01" r="3.4" fill="#7570b3"/>
<circle cx="217.20" cy="460.02" r="3.4" fill="#7570b3"/>
<circle cx="164.20" cy="577.10" r="3.4" fill="#1b9e77"/>
<circle cx="182.00" cy="591.78" r="3.4" fill="#1b9e77"/>
<circle cx="199.50" cy="607.51" r="3.4" fill="#1b9e77"/>
<circle cx="217.20" cy="609.25" r="3.4" fill="#1b9e77"/>
<circle cx="164.20" cy="577.10" r="3.4" fill="#e25330"/>
<circle cx="182.00" cy="592.83" r="3.4" fill="#e25330"/>
<circle cx="199.50" cy="607.86" r="3.4" fill="#e25330"/>
<circle cx="217.20" cy="609.60" r="3.4" fill="#e25330"/>
<circle cx="164.20" cy="577.10" r="3.4" fill="#808080"/>
<circle cx="182.00" cy="592.83" r="3.4" fill="#808080"/>
<circle cx="199.50" cy="607.86" r="3.4" fill="#808080"/>
<circle cx="217.20" cy="609.60" r="3.4" fill="#808080"/>
<circle cx="164.20" cy="577.10" r="3.4" fill="#fcc466"/>
<circle cx="182.00" cy="592.83" r="3.4" fill="#fcc466"/>
<circle cx="199.50" cy="607.86" r="3.4" fill="#fcc466"/>
<circle cx="217.20" cy="609.60" r="3.4" fill="#fcc466"/>
</g>
<rect x="154.70" y="448.10" width="72.50" height="168.40" fill="none" stroke="#000" stroke-width="1.75"/>
<line x1="149.70" x2="153.85" y1="612.05" y2="612.05" stroke="#000" stroke-width="1.75"/>
<text x="0.00" y="0.00" font-size="9.2" text-anchor="end" fill="#262626" transform="translate(148.60,615.35) rotate(0.05)" stroke="#262626" stroke-width="0.15">-100</text>
<line x1="149.70" x2="153.85" y1="577.10" y2="577.10" stroke="#000" stroke-width="1.75"/>
<text x="0.00" y="0.00" font-size="9.2" text-anchor="end" fill="#262626" transform="translate(148.60,580.40) rotate(0.05)" stroke="#262626" stroke-width="0.15">0</text>
<line x1="149.70" x2="153.85" y1="542.15" y2="542.15" stroke="#000" stroke-width="1.75"/>
<text x="0.00" y="0.00" font-size="9.2" text-anchor="end" fill="#262626" transform="translate(148.60,545.45) rotate(0.05)" stroke="#262626" stroke-width="0.15">100</text>
<line x1="149.70" x2="153.85" y1="507.20" y2="507.20" stroke="#000" stroke-width="1.75"/>
<text x="0.00" y="0.00" font-size="9.2" text-anchor="end" fill="#262626" transform="translate(148.60,510.50) rotate(0.05)" stroke="#262626" stroke-width="0.15">200</text>
<line x1="149.70" x2="153.85" y1="472.25" y2="472.25" stroke="#000" stroke-width="1.75"/>
<text x="0.00" y="0.00" font-size="9.2" text-anchor="end" fill="#262626" transform="translate(148.60,475.55) rotate(0.05)" stroke="#262626" stroke-width="0.15">300</text>
<line x1="164.20" x2="164.20" y1="616.50" y2="620.65" stroke="#000" stroke-width="1.75"/>
<text x="0.00" y="0.00" font-size="9.2" text-anchor="end" fill="#262626" transform="translate(168.90,630.05) rotate(-45)" stroke="#262626" stroke-width="0.15">ALL mix</text>
<line x1="182.00" x2="182.00" y1="616.50" y2="620.65" stroke="#000" stroke-width="1.75"/>
<text x="0.00" y="0.00" font-size="9.2" text-anchor="end" fill="#262626" transform="translate(186.70,630.05) rotate(-45)" stroke="#262626" stroke-width="0.15">TIG-0.25-20</text>
<line x1="199.50" x2="199.50" y1="616.50" y2="620.65" stroke="#000" stroke-width="1.75"/>
<text x="0.00" y="0.00" font-size="9.2" text-anchor="end" fill="#262626" transform="translate(204.20,630.05) rotate(-45)" stroke="#262626" stroke-width="0.15">TIG-0.5-20</text>
<line x1="217.20" x2="217.20" y1="616.50" y2="620.65" stroke="#000" stroke-width="1.75"/>
<text x="0.00" y="0.00" font-size="9.2" text-anchor="end" fill="#262626" transform="translate(221.90,630.05) rotate(-45)" stroke="#262626" stroke-width="0.15">TIG-2-48</text>
<text x="0.00" y="0.00" font-size="12.4" text-anchor="middle" font-weight="bold" fill="#000" transform="translate(128.70,532.30) rotate(-90)">% change</text>
<clipPath id="cpa269"><rect x="268.80" y="2.10" width="70.30" height="168.40"/></clipPath>
<g clip-path="url(#cpa269)">
<polyline points="277.70,150.30 294.80,150.30 312.20,147.42 329.40,162.52" fill="none" stroke="#1a6b50" stroke-width="1.5" stroke-linejoin="round"/>
<polyline points="277.70,150.30 294.80,141.24 312.20,114.64 329.40,18.00" fill="none" stroke="#1d9370" stroke-width="1.5" stroke-linejoin="round"/>
<polyline points="277.70,150.30 294.80,145.99 312.20,129.31 329.40,82.43" fill="none" stroke="#22c08f" stroke-width="1.5" stroke-linejoin="round"/>
<polyline points="277.70,150.30 294.80,121.54 312.20,94.79 329.40,122.98" fill="none" stroke="#3cdca9" stroke-width="1.5" stroke-linejoin="round"/>
<polyline points="277.70,150.30 294.80,134.63 312.20,144.55 329.40,162.67" fill="none" stroke="#68e2bd" stroke-width="1.5" stroke-linejoin="round"/>
<polyline points="277.70,150.30 294.80,147.42 312.20,154.76 329.40,162.67" fill="none" stroke="#97ebd1" stroke-width="1.5" stroke-linejoin="round"/>
<line x1="312.20" x2="312.20" y1="110.32" y2="118.95" stroke="#1d9370" stroke-width="1.3"/>
<line x1="310.80" x2="313.60" y1="110.32" y2="110.32" stroke="#1d9370" stroke-width="1.3"/>
<line x1="310.80" x2="313.60" y1="118.95" y2="118.95" stroke="#1d9370" stroke-width="1.3"/>
<line x1="329.40" x2="329.40" y1="9.38" y2="26.63" stroke="#1d9370" stroke-width="1.3"/>
<line x1="328.00" x2="330.80" y1="9.38" y2="9.38" stroke="#1d9370" stroke-width="1.3"/>
<line x1="328.00" x2="330.80" y1="26.63" y2="26.63" stroke="#1d9370" stroke-width="1.3"/>
<line x1="329.40" x2="329.40" y1="77.82" y2="87.03" stroke="#22c08f" stroke-width="1.3"/>
<line x1="328.00" x2="330.80" y1="77.82" y2="77.82" stroke="#22c08f" stroke-width="1.3"/>
<line x1="328.00" x2="330.80" y1="87.03" y2="87.03" stroke="#22c08f" stroke-width="1.3"/>
<line x1="294.80" x2="294.80" y1="115.79" y2="127.29" stroke="#3cdca9" stroke-width="1.3"/>
<line x1="293.40" x2="296.20" y1="115.79" y2="115.79" stroke="#3cdca9" stroke-width="1.3"/>
<line x1="293.40" x2="296.20" y1="127.29" y2="127.29" stroke="#3cdca9" stroke-width="1.3"/>
<line x1="312.20" x2="312.20" y1="81.85" y2="107.74" stroke="#3cdca9" stroke-width="1.3"/>
<line x1="310.80" x2="313.60" y1="81.85" y2="81.85" stroke="#3cdca9" stroke-width="1.3"/>
<line x1="310.80" x2="313.60" y1="107.74" y2="107.74" stroke="#3cdca9" stroke-width="1.3"/>
<line x1="329.40" x2="329.40" y1="106.01" y2="139.95" stroke="#3cdca9" stroke-width="1.3"/>
<line x1="328.00" x2="330.80" y1="106.01" y2="106.01" stroke="#3cdca9" stroke-width="1.3"/>
<line x1="328.00" x2="330.80" y1="139.95" y2="139.95" stroke="#3cdca9" stroke-width="1.3"/>
<line x1="294.80" x2="294.80" y1="130.31" y2="138.94" stroke="#68e2bd" stroke-width="1.3"/>
<line x1="293.40" x2="296.20" y1="130.31" y2="130.31" stroke="#68e2bd" stroke-width="1.3"/>
<line x1="293.40" x2="296.20" y1="138.94" y2="138.94" stroke="#68e2bd" stroke-width="1.3"/>
<line x1="312.20" x2="312.20" y1="140.23" y2="148.86" stroke="#68e2bd" stroke-width="1.3"/>
<line x1="310.80" x2="313.60" y1="140.23" y2="140.23" stroke="#68e2bd" stroke-width="1.3"/>
<line x1="310.80" x2="313.60" y1="148.86" y2="148.86" stroke="#68e2bd" stroke-width="1.3"/>
<circle cx="277.70" cy="150.30" r="3.4" fill="#1a6b50"/>
<circle cx="294.80" cy="150.30" r="3.4" fill="#1a6b50"/>
<circle cx="312.20" cy="147.42" r="3.4" fill="#1a6b50"/>
<circle cx="329.40" cy="162.52" r="3.4" fill="#1a6b50"/>
<circle cx="277.70" cy="150.30" r="3.4" fill="#1d9370"/>
<circle cx="294.80" cy="141.24" r="3.4" fill="#1d9370"/>
<circle cx="312.20" cy="114.64" r="3.4" fill="#1d9370"/>
<circle cx="329.40" cy="18.00" r="3.4" fill="#1d9370"/>
<circle cx="277.70" cy="150.30" r="3.4" fill="#22c08f"/>
<circle cx="294.80" cy="145.99" r="3.4" fill="#22c08f"/>
<circle cx="312.20" cy="129.31" r="3.4" fill="#22c08f"/>
<circle cx="329.40" cy="82.43" r="3.4" fill="#22c08f"/>
<circle cx="277.70" cy="150.30" r="3.4" fill="#3cdca9"/>
<circle cx="294.80" cy="121.54" r="3.4" fill="#3cdca9"/>
<circle cx="312.20" cy="94.79" r="3.4" fill="#3cdca9"/>
<circle cx="329.40" cy="122.98" r="3.4" fill="#3cdca9"/>
<circle cx="277.70" cy="150.30" r="3.4" fill="#68e2bd"/>
<circle cx="294.80" cy="134.63" r="3.4" fill="#68e2bd"/>
<circle cx="312.20" cy="144.55" r="3.4" fill="#68e2bd"/>
<circle cx="329.40" cy="162.67" r="3.4" fill="#68e2bd"/>
<circle cx="277.70" cy="150.30" r="3.4" fill="#97ebd1"/>
<circle cx="294.80" cy="147.42" r="3.4" fill="#97ebd1"/>
<circle cx="312.20" cy="154.76" r="3.4" fill="#97ebd1"/>
<circle cx="329.40" cy="162.67" r="3.4" fill="#97ebd1"/>
</g>
<rect x="268.80" y="2.10" width="70.30" height="168.40" fill="none" stroke="#000" stroke-width="1.75"/>
<line x1="263.80" x2="267.95" y1="150.30" y2="150.30" stroke="#000" stroke-width="1.75"/>
<text x="0.00" y="0.00" font-size="9.2" text-anchor="end" fill="#262626" transform="translate(262.70,153.60) rotate(0.05)" stroke="#262626" stroke-width="0.15">0</text>
<line x1="263.80" x2="267.95" y1="114.35" y2="114.35" stroke="#000" stroke-width="1.75"/>
<text x="0.00" y="0.00" font-size="9.2" text-anchor="end" fill="#262626" transform="translate(262.70,117.65) rotate(0.05)" stroke="#262626" stroke-width="0.15">250</text>
<line x1="263.80" x2="267.95" y1="78.40" y2="78.40" stroke="#000" stroke-width="1.75"/>
<text x="0.00" y="0.00" font-size="9.2" text-anchor="end" fill="#262626" transform="translate(262.70,81.70) rotate(0.05)" stroke="#262626" stroke-width="0.15">500</text>
<line x1="263.80" x2="267.95" y1="42.45" y2="42.45" stroke="#000" stroke-width="1.75"/>
<text x="0.00" y="0.00" font-size="9.2" text-anchor="end" fill="#262626" transform="translate(262.70,45.75) rotate(0.05)" stroke="#262626" stroke-width="0.15">750</text>
<line x1="263.80" x2="267.95" y1="6.50" y2="6.50" stroke="#000" stroke-width="1.75"/>
<text x="0.00" y="0.00" font-size="9.2" text-anchor="end" fill="#262626" transform="translate(262.70,9.80) rotate(0.05)" stroke="#262626" stroke-width="0.15">1000</text>
<line x1="277.70" x2="277.70" y1="170.50" y2="174.65" stroke="#000" stroke-width="1.75"/>
<text x="0.00" y="0.00" font-size="9.2" text-anchor="end" fill="#262626" transform="translate(282.40,184.05) rotate(-45)" stroke="#262626" stroke-width="0.15">ALL mix</text>
<line x1="294.80" x2="294.80" y1="170.50" y2="174.65" stroke="#000" stroke-width="1.75"/>
<text x="0.00" y="0.00" font-size="9.2" text-anchor="end" fill="#262626" transform="translate(299.50,184.05) rotate(-45)" stroke="#262626" stroke-width="0.15">TET-0.5-20</text>
<line x1="312.20" x2="312.20" y1="170.50" y2="174.65" stroke="#000" stroke-width="1.75"/>
<text x="0.00" y="0.00" font-size="9.2" text-anchor="end" fill="#262626" transform="translate(316.90,184.05) rotate(-45)" stroke="#262626" stroke-width="0.15">TET-1-20</text>
<line x1="329.40" x2="329.40" y1="170.50" y2="174.65" stroke="#000" stroke-width="1.75"/>
<text x="0.00" y="0.00" font-size="9.2" text-anchor="end" fill="#262626" transform="translate(334.10,184.05) rotate(-45)" stroke="#262626" stroke-width="0.15">TET-4-20</text>
<text x="0.00" y="0.00" font-size="12.4" text-anchor="middle" font-weight="bold" fill="#000" transform="translate(241.00,86.30) rotate(-90)">% change</text>
<clipPath id="cpb269"><rect x="268.80" y="225.20" width="70.30" height="168.40"/></clipPath>
<g clip-path="url(#cpb269)">
<polyline points="277.70,373.90 294.80,365.27 312.20,360.96 329.40,378.65" fill="none" stroke="#774606" stroke-width="1.5" stroke-linejoin="round"/>
<polyline points="277.70,373.90 294.80,350.60 312.20,331.34 329.40,307.75" fill="none" stroke="#a86709" stroke-width="1.5" stroke-linejoin="round"/>
<polyline points="277.70,373.90 294.80,377.93 312.20,383.53 329.40,386.55" fill="none" stroke="#e08a0a" stroke-width="1.5" stroke-linejoin="round"/>
<polyline points="277.70,373.90 294.80,357.36 312.20,347.30 329.40,240.17" fill="none" stroke="#f7a321" stroke-width="1.5" stroke-linejoin="round"/>
<polyline points="277.70,373.90 294.80,367.43 312.20,355.21 329.40,374.33" fill="none" stroke="#f9b652" stroke-width="1.5" stroke-linejoin="round"/>
<polyline points="277.70,373.90 294.80,353.77 312.20,347.30 329.40,366.71" fill="none" stroke="#fbcc88" stroke-width="1.5" stroke-linejoin="round"/>
<line x1="294.80" x2="294.80" y1="363.11" y2="367.43" stroke="#774606" stroke-width="1.3"/>
<line x1="293.40" x2="296.20" y1="363.11" y2="363.11" stroke="#774606" stroke-width="1.3"/>
<line x1="293.40" x2="296.20" y1="367.43" y2="367.43" stroke="#774606" stroke-width="1.3"/>
<line x1="312.20" x2="312.20" y1="358.08" y2="363.83" stroke="#774606" stroke-width="1.3"/>
<line x1="310.80" x2="313.60" y1="358.08" y2="358.08" stroke="#774606" stroke-width="1.3"/>
<line x1="310.80" x2="313.60" y1="363.83" y2="363.83" stroke="#774606" stroke-width="1.3"/>
<line x1="329.40" x2="329.40" y1="377.21" y2="380.08" stroke="#774606" stroke-width="1.3"/>
<line x1="328.00" x2="330.80" y1="377.21" y2="377.21" stroke="#774606" stroke-width="1.3"/>
<line x1="328.00" x2="330.80" y1="380.08" y2="380.08" stroke="#774606" stroke-width="1.3"/>
<line x1="294.80" x2="294.80" y1="343.41" y2="357.79" stroke="#a86709" stroke-width="1.3"/>
<line x1="293.40" x2="296.20" y1="343.41" y2="343.41" stroke="#a86709" stroke-width="1.3"/>
<line x1="293.40" x2="296.20" y1="357.79" y2="357.79" stroke="#a86709" stroke-width="1.3"/>
<line x1="312.20" x2="312.20" y1="318.39" y2="344.28" stroke="#a86709" stroke-width="1.3"/>
<line x1="310.80" x2="313.60" y1="318.39" y2="318.39" stroke="#a86709" stroke-width="1.3"/>
<line x1="310.80" x2="313.60" y1="344.28" y2="344.28" stroke="#a86709" stroke-width="1.3"/>
<line x1="329.40" x2="329.40" y1="294.81" y2="320.69" stroke="#a86709" stroke-width="1.3"/>
<line x1="328.00" x2="330.80" y1="294.81" y2="294.81" stroke="#a86709" stroke-width="1.3"/>
<line x1="328.00" x2="330.80" y1="320.69" y2="320.69" stroke="#a86709" stroke-width="1.3"/>
<line x1="294.80" x2="294.80" y1="354.49" y2="360.24" stroke="#f7a321" stroke-width="1.3"/>
<line x1="293.40" x2="296.20" y1="354.49" y2="354.49" stroke="#f7a321" stroke-width="1.3"/>
<line x1="293.40" x2="296.20" y1="360.24" y2="360.24" stroke="#f7a321" stroke-width="1.3"/>
<line x1="312.20" x2="312.20" y1="341.54" y2="353.05" stroke="#f7a321" stroke-width="1.3"/>
<line x1="310.80" x2="313.60" y1="341.54" y2="341.54" stroke="#f7a321" stroke-width="1.3"/>
<line x1="310.80" x2="313.60" y1="353.05" y2="353.05" stroke="#f7a321" stroke-width="1.3"/>
<line x1="329.40" x2="329.40" y1="230.82" y2="249.51" stroke="#f7a321" stroke-width="1.3"/>
<line x1="328.00" x2="330.80" y1="230.82" y2="230.82" stroke="#f7a321" stroke-width="1.3"/>
<line x1="328.00" x2="330.80" y1="249.51" y2="249.51" stroke="#f7a321" stroke-width="1.3"/>
<line x1="294.80" x2="294.80" y1="364.55" y2="370.30" stroke="#f9b652" stroke-width="1.3"/>
<line x1="293.40" x2="296.20" y1="364.55" y2="364.55" stroke="#f9b652" stroke-width="1.3"/>
<line x1="293.40" x2="296.20" y1="370.30" y2="370.30" stroke="#f9b652" stroke-width="1.3"/>
<line x1="312.20" x2="312.20" y1="352.33" y2="358.08" stroke="#f9b652" stroke-width="1.3"/>
<line x1="310.80" x2="313.60" y1="352.33" y2="352.33" stroke="#f9b652" stroke-width="1.3"/>
<line x1="310.80" x2="313.60" y1="358.08" y2="358.08" stroke="#f9b652" stroke-width="1.3"/>
<line x1="294.80" x2="294.80" y1="350.89" y2="356.64" stroke="#fbcc88" stroke-width="1.3"/>
<line x1="293.40" x2="296.20" y1="350.89" y2="350.89" stroke="#fbcc88" stroke-width="1.3"/>
<line x1="293.40" x2="296.20" y1="356.64" y2="356.64" stroke="#fbcc88" stroke-width="1.3"/>
<line x1="312.20" x2="312.20" y1="344.42" y2="350.17" stroke="#fbcc88" stroke-width="1.3"/>
<line x1="310.80" x2="313.60" y1="344.42" y2="344.42" stroke="#fbcc88" stroke-width="1.3"/>
<line x1="310.80" x2="313.60" y1="350.17" y2="350.17" stroke="#fbcc88" stroke-width="1.3"/>
<line x1="329.40" x2="329.40" y1="365.27" y2="368.15" stroke="#fbcc88" stroke-width="1.3"/>
<line x1="328.00" x2="330.80" y1="365.27" y2="365.27" stroke="#fbcc88" stroke-width="1.3"/>
<line x1="328.00" x2="330.80" y1="368.15" y2="368.15" stroke="#fbcc88" stroke-width="1.3"/>
<circle cx="277.70" cy="373.90" r="3.4" fill="#774606"/>
<circle cx="294.80" cy="365.27" r="3.4" fill="#774606"/>
<circle cx="312.20" cy="360.96" r="3.4" fill="#774606"/>
<circle cx="329.40" cy="378.65" r="3.4" fill="#774606"/>
<circle cx="277.70" cy="373.90" r="3.4" fill="#a86709"/>
<circle cx="294.80" cy="350.60" r="3.4" fill="#a86709"/>
<circle cx="312.20" cy="331.34" r="3.4" fill="#a86709"/>
<circle cx="329.40" cy="307.75" r="3.4" fill="#a86709"/>
<circle cx="277.70" cy="373.90" r="3.4" fill="#e08a0a"/>
<circle cx="294.80" cy="377.93" r="3.4" fill="#e08a0a"/>
<circle cx="312.20" cy="383.53" r="3.4" fill="#e08a0a"/>
<circle cx="329.40" cy="386.55" r="3.4" fill="#e08a0a"/>
<circle cx="277.70" cy="373.90" r="3.4" fill="#f7a321"/>
<circle cx="294.80" cy="357.36" r="3.4" fill="#f7a321"/>
<circle cx="312.20" cy="347.30" r="3.4" fill="#f7a321"/>
<circle cx="329.40" cy="240.17" r="3.4" fill="#f7a321"/>
<circle cx="277.70" cy="373.90" r="3.4" fill="#f9b652"/>
<circle cx="294.80" cy="367.43" r="3.4" fill="#f9b652"/>
<circle cx="312.20" cy="355.21" r="3.4" fill="#f9b652"/>
<circle cx="329.40" cy="374.33" r="3.4" fill="#f9b652"/>
<circle cx="277.70" cy="373.90" r="3.4" fill="#fbcc88"/>
<circle cx="294.80" cy="353.77" r="3.4" fill="#fbcc88"/>
<circle cx="312.20" cy="347.30" r="3.4" fill="#fbcc88"/>
<circle cx="329.40" cy="366.71" r="3.4" fill="#fbcc88"/>
</g>
<rect x="268.80" y="225.20" width="70.30" height="168.40" fill="none" stroke="#000" stroke-width="1.75"/>
<line x1="263.80" x2="267.95" y1="373.90" y2="373.90" stroke="#000" stroke-width="1.75"/>
<text x="0.00" y="0.00" font-size="9.2" text-anchor="end" fill="#262626" transform="translate(262.70,377.20) rotate(0.05)" stroke="#262626" stroke-width="0.15">0</text>
<line x1="263.80" x2="267.95" y1="337.95" y2="337.95" stroke="#000" stroke-width="1.75"/>
<text x="0.00" y="0.00" font-size="9.2" text-anchor="end" fill="#262626" transform="translate(262.70,341.25) rotate(0.05)" stroke="#262626" stroke-width="0.15">250</text>
<line x1="263.80" x2="267.95" y1="302.00" y2="302.00" stroke="#000" stroke-width="1.75"/>
<text x="0.00" y="0.00" font-size="9.2" text-anchor="end" fill="#262626" transform="translate(262.70,305.30) rotate(0.05)" stroke="#262626" stroke-width="0.15">500</text>
<line x1="263.80" x2="267.95" y1="266.05" y2="266.05" stroke="#000" stroke-width="1.75"/>
<text x="0.00" y="0.00" font-size="9.2" text-anchor="end" fill="#262626" transform="translate(262.70,269.35) rotate(0.05)" stroke="#262626" stroke-width="0.15">750</text>
<line x1="263.80" x2="267.95" y1="230.10" y2="230.10" stroke="#000" stroke-width="1.75"/>
<text x="0.00" y="0.00" font-size="9.2" text-anchor="end" fill="#262626" transform="translate(262.70,233.40) rotate(0.05)" stroke="#262626" stroke-width="0.15">1000</text>
<line x1="277.70" x2="277.70" y1="393.60" y2="397.75" stroke="#000" stroke-width="1.75"/>
<text x="0.00" y="0.00" font-size="9.2" text-anchor="end" fill="#262626" transform="translate(282.40,407.15) rotate(-45)" stroke="#262626" stroke-width="0.15">ALL mix</text>
<line x1="294.80" x2="294.80" y1="393.60" y2="397.75" stroke="#000" stroke-width="1.75"/>
<text x="0.00" y="0.00" font-size="9.2" text-anchor="end" fill="#262626" transform="translate(299.50,407.15) rotate(-45)" stroke="#262626" stroke-width="0.15">DOX-0.5-20</text>
<line x1="312.20" x2="312.20" y1="393.60" y2="397.75" stroke="#000" stroke-width="1.75"/>
<text x="0.00" y="0.00" font-size="9.2" text-anchor="end" fill="#262626" transform="translate(316.90,407.15) rotate(-45)" stroke="#262626" stroke-width="0.15">DOX-1-20</text>
<line x1="329.40" x2="329.40" y1="393.60" y2="397.75" stroke="#000" stroke-width="1.75"/>
<text x="0.00" y="0.00" font-size="9.2" text-anchor="end" fill="#262626" transform="translate(334.10,407.15) rotate(-45)" stroke="#262626" stroke-width="0.15">DOX-4-20</text>
<text x="0.00" y="0.00" font-size="12.4" text-anchor="middle" font-weight="bold" fill="#000" transform="translate(241.00,309.40) rotate(-90)">% change</text>
<clipPath id="cpc269"><rect x="268.80" y="448.10" width="70.30" height="168.40"/></clipPath>
<g clip-path="url(#cpc269)">
<polyline points="277.70,601.00 294.80,604.50 312.20,609.10 329.40,609.10" fill="none" stroke="#2e2a55" stroke-width="1.5" stroke-linejoin="round"/>
<polyline points="277.70,601.00 294.80,570.15 312.20,487.26 329.40,511.20" fill="none" stroke="#3f3a76" stroke-width="1.5" stroke-linejoin="round"/>
<polyline points="277.70,601.00 294.80,587.18 312.20,600.08 329.40,608.37" fill="none" stroke="#504b95" stroke-width="1.5" stroke-linejoin="round"/>
<polyline points="277.70,601.00 294.80,589.03 312.20,602.84 329.40,608.83" fill="none" stroke="#6863ad" stroke-width="1.5" stroke-linejoin="round"/>
<polyline points="277.70,601.00 294.80,586.26 312.20,604.68 329.40,608.83" fill="none" stroke="#8d88c3" stroke-width="1.5" stroke-linejoin="round"/>
<polyline points="277.70,601.00 294.80,581.66 312.20,537.91 329.40,496.47" fill="none" stroke="#aeabd6" stroke-width="1.5" stroke-linejoin="round"/>
<line x1="329.40" x2="329.40" y1="469.76" y2="552.65" stroke="#3f3a76" stroke-width="1.3"/>
<line x1="328.00" x2="330.80" y1="469.76" y2="469.76" stroke="#3f3a76" stroke-width="1.3"/>
<line x1="328.00" x2="330.80" y1="552.65" y2="552.65" stroke="#3f3a76" stroke-width="1.3"/>
<line x1="294.80" x2="294.80" y1="583.50" y2="590.87" stroke="#504b95" stroke-width="1.3"/>
<line x1="293.40" x2="296.20" y1="583.50" y2="583.50" stroke="#504b95" stroke-width="1.3"/>
<line x1="293.40" x2="296.20" y1="590.87" y2="590.87" stroke="#504b95" stroke-width="1.3"/>
<line x1="312.20" x2="312.20" y1="598.24" y2="601.92" stroke="#504b95" stroke-width="1.3"/>
<line x1="310.80" x2="313.60" y1="598.24" y2="598.24" stroke="#504b95" stroke-width="1.3"/>
<line x1="310.80" x2="313.60" y1="601.92" y2="601.92" stroke="#504b95" stroke-width="1.3"/>
<line x1="294.80" x2="294.80" y1="585.34" y2="592.71" stroke="#6863ad" stroke-width="1.3"/>
<line x1="293.40" x2="296.20" y1="585.34" y2="585.34" stroke="#6863ad" stroke-width="1.3"/>
<line x1="293.40" x2="296.20" y1="592.71" y2="592.71" stroke="#6863ad" stroke-width="1.3"/>
<line x1="312.20" x2="312.20" y1="601.00" y2="604.68" stroke="#6863ad" stroke-width="1.3"/>
<line x1="310.80" x2="313.60" y1="601.00" y2="601.00" stroke="#6863ad" stroke-width="1.3"/>
<line x1="310.80" x2="313.60" y1="604.68" y2="604.68" stroke="#6863ad" stroke-width="1.3"/>
<line x1="294.80" x2="294.80" y1="582.58" y2="589.95" stroke="#8d88c3" stroke-width="1.3"/>
<line x1="293.40" x2="296.20" y1="582.58" y2="582.58" stroke="#8d88c3" stroke-width="1.3"/>
<line x1="293.40" x2="296.20" y1="589.95" y2="589.95" stroke="#8d88c3" stroke-width="1.3"/>
<line x1="312.20" x2="312.20" y1="602.84" y2="606.53" stroke="#8d88c3" stroke-width="1.3"/>
<line x1="310.80" x2="313.60" y1="602.84" y2="602.84" stroke="#8d88c3" stroke-width="1.3"/>
<line x1="310.80" x2="313.60" y1="606.53" y2="606.53" stroke="#8d88c3" stroke-width="1.3"/>
<line x1="294.80" x2="294.80" y1="577.05" y2="586.26" stroke="#aeabd6" stroke-width="1.3"/>
<line x1="293.40" x2="296.20" y1="577.05" y2="577.05" stroke="#aeabd6" stroke-width="1.3"/>
<line x1="293.40" x2="296.20" y1="586.26" y2="586.26" stroke="#aeabd6" stroke-width="1.3"/>
<line x1="312.20" x2="312.20" y1="528.70" y2="547.12" stroke="#aeabd6" stroke-width="1.3"/>
<line x1="310.80" x2="313.60" y1="528.70" y2="528.70" stroke="#aeabd6" stroke-width="1.3"/>
<line x1="310.80" x2="313.60" y1="547.12" y2="547.12" stroke="#aeabd6" stroke-width="1.3"/>
<line x1="329.40" x2="329.40" y1="455.02" y2="537.91" stroke="#aeabd6" stroke-width="1.3"/>
<line x1="328.00" x2="330.80" y1="455.02" y2="455.02" stroke="#aeabd6" stroke-width="1.3"/>
<line x1="328.00" x2="330.80" y1="537.91" y2="537.91" stroke="#aeabd6" stroke-width="1.3"/>
<circle cx="277.70" cy="601.00" r="3.4" fill="#2e2a55"/>
<circle cx="294.80" cy="604.50" r="3.4" fill="#2e2a55"/>
<circle cx="312.20" cy="609.10" r="3.4" fill="#2e2a55"/>
<circle cx="329.40" cy="609.10" r="3.4" fill="#2e2a55"/>
<circle cx="277.70" cy="601.00" r="3.4" fill="#3f3a76"/>
<circle cx="294.80" cy="570.15" r="3.4" fill="#3f3a76"/>
<circle cx="312.20" cy="487.26" r="3.4" fill="#3f3a76"/>
<circle cx="329.40" cy="511.20" r="3.4" fill="#3f3a76"/>
<circle cx="277.70" cy="601.00" r="3.4" fill="#504b95"/>
<circle cx="294.80" cy="587.18" r="3.4" fill="#504b95"/>
<circle cx="312.20" cy="600.08" r="3.4" fill="#504b95"/>
<circle cx="329.40" cy="608.37" r="3.4" fill="#504b95"/>
<circle cx="277.70" cy="601.00" r="3.4" fill="#6863ad"/>
<circle cx="294.80" cy="589.03" r="3.4" fill="#6863ad"/>
<circle cx="312.20" cy="602.84" r="3.4" fill="#6863ad"/>
<circle cx="329.40" cy="608.83" r="3.4" fill="#6863ad"/>
<circle cx="277.70" cy="601.00" r="3.4" fill="#8d88c3"/>
<circle cx="294.80" cy="586.26" r="3.4" fill="#8d88c3"/>
<circle cx="312.20" cy="604.68" r="3.4" fill="#8d88c3"/>
<circle cx="329.40" cy="608.83" r="3.4" fill="#8d88c3"/>
<circle cx="277.70" cy="601.00" r="3.4" fill="#aeabd6"/>
<circle cx="294.80" cy="581.66" r="3.4" fill="#aeabd6"/>
<circle cx="312.20" cy="537.91" r="3.4" fill="#aeabd6"/>
<circle cx="329.40" cy="496.47" r="3.4" fill="#aeabd6"/>
</g>
<rect x="268.80" y="448.10" width="70.30" height="168.40" fill="none" stroke="#000" stroke-width="1.75"/>
<line x1="263.80" x2="267.95" y1="601.00" y2="601.00" stroke="#000" stroke-width="1.75"/>
<text x="0.00" y="0.00" font-size="9.2" text-anchor="end" fill="#262626" transform="translate(262.70,604.30) rotate(0.05)" stroke="#262626" stroke-width="0.15">0</text>
<line x1="263.80" x2="267.95" y1="554.95" y2="554.95" stroke="#000" stroke-width="1.75"/>
<text x="0.00" y="0.00" font-size="9.2" text-anchor="end" fill="#262626" transform="translate(262.70,558.25) rotate(0.05)" stroke="#262626" stroke-width="0.15">500</text>
<line x1="263.80" x2="267.95" y1="508.90" y2="508.90" stroke="#000" stroke-width="1.75"/>
<text x="0.00" y="0.00" font-size="9.2" text-anchor="end" fill="#262626" transform="translate(262.70,512.20) rotate(0.05)" stroke="#262626" stroke-width="0.15">1000</text>
<line x1="263.80" x2="267.95" y1="462.85" y2="462.85" stroke="#000" stroke-width="1.75"/>
<text x="0.00" y="0.00" font-size="9.2" text-anchor="end" fill="#262626" transform="translate(262.70,466.15) rotate(0.05)" stroke="#262626" stroke-width="0.15">1500</text>
<line x1="277.70" x2="277.70" y1="616.50" y2="620.65" stroke="#000" stroke-width="1.75"/>
<text x="0.00" y="0.00" font-size="9.2" text-anchor="end" fill="#262626" transform="translate(282.40,630.05) rotate(-45)" stroke="#262626" stroke-width="0.15">ALL mix</text>
<line x1="294.80" x2="294.80" y1="616.50" y2="620.65" stroke="#000" stroke-width="1.75"/>
<text x="0.00" y="0.00" font-size="9.2" text-anchor="end" fill="#262626" transform="translate(299.50,630.05) rotate(-45)" stroke="#262626" stroke-width="0.15">TIG-0.25-20</text>
<line x1="312.20" x2="312.20" y1="616.50" y2="620.65" stroke="#000" stroke-width="1.75"/>
<text x="0.00" y="0.00" font-size="9.2" text-anchor="end" fill="#262626" transform="translate(316.90,630.05) rotate(-45)" stroke="#262626" stroke-width="0.15">TIG-0.5-20</text>
<line x1="329.40" x2="329.40" y1="616.50" y2="620.65" stroke="#000" stroke-width="1.75"/>
<text x="0.00" y="0.00" font-size="9.2" text-anchor="end" fill="#262626" transform="translate(334.10,630.05) rotate(-45)" stroke="#262626" stroke-width="0.15">TIG-2-48</text>
<text x="0.00" y="0.00" font-size="12.4" text-anchor="middle" font-weight="bold" fill="#000" transform="translate(241.00,532.30) rotate(-90)">% change</text>
<clipPath id="cpd504"><rect x="504.00" y="2.10" width="72.40" height="168.40"/></clipPath>
<g clip-path="url(#cpd504)">
<polyline points="513.60,120.70 531.10,132.31 548.80,139.62 566.60,158.54" fill="none" stroke="#1a6b50" stroke-width="1.5" stroke-linejoin="round"/>
<polyline points="513.60,120.70 531.10,109.52 548.80,93.61 566.60,22.66" fill="none" stroke="#1d9370" stroke-width="1.5" stroke-linejoin="round"/>
<polyline points="513.60,120.70 531.10,120.70 548.80,111.24 566.60,78.99" fill="none" stroke="#22c08f" stroke-width="1.5" stroke-linejoin="round"/>
<polyline points="513.60,120.70 531.10,92.32 548.80,75.55 566.60,130.59" fill="none" stroke="#3cdca9" stroke-width="1.5" stroke-linejoin="round"/>
<polyline points="513.60,120.70 531.10,109.52 548.80,130.16 566.60,158.54" fill="none" stroke="#68e2bd" stroke-width="1.5" stroke-linejoin="round"/>
<polyline points="513.60,120.70 531.10,128.44 548.80,145.64 566.60,158.54" fill="none" stroke="#97ebd1" stroke-width="1.5" stroke-linejoin="round"/>
<line x1="531.10" x2="531.10" y1="105.22" y2="113.82" stroke="#1d9370" stroke-width="1.3"/>
<line x1="529.70" x2="532.50" y1="105.22" y2="105.22" stroke="#1d9370" stroke-width="1.3"/>
<line x1="529.70" x2="532.50" y1="113.82" y2="113.82" stroke="#1d9370" stroke-width="1.3"/>
<line x1="548.80" x2="548.80" y1="85.01" y2="102.21" stroke="#1d9370" stroke-width="1.3"/>
<line x1="547.40" x2="550.20" y1="85.01" y2="85.01" stroke="#1d9370" stroke-width="1.3"/>
<line x1="547.40" x2="550.20" y1="102.21" y2="102.21" stroke="#1d9370" stroke-width="1.3"/>
<line x1="566.60" x2="566.60" y1="8.90" y2="36.42" stroke="#1d9370" stroke-width="1.3"/>
<line x1="565.20" x2="568.00" y1="8.90" y2="8.90" stroke="#1d9370" stroke-width="1.3"/>
<line x1="565.20" x2="568.00" y1="36.42" y2="36.42" stroke="#1d9370" stroke-width="1.3"/>
<line x1="531.10" x2="531.10" y1="81.57" y2="103.07" stroke="#3cdca9" stroke-width="1.3"/>
<line x1="529.70" x2="532.50" y1="81.57" y2="81.57" stroke="#3cdca9" stroke-width="1.3"/>
<line x1="529.70" x2="532.50" y1="103.07" y2="103.07" stroke="#3cdca9" stroke-width="1.3"/>
<line x1="548.80" x2="548.80" y1="64.80" y2="86.30" stroke="#3cdca9" stroke-width="1.3"/>
<line x1="547.40" x2="550.20" y1="64.80" y2="64.80" stroke="#3cdca9" stroke-width="1.3"/>
<line x1="547.40" x2="550.20" y1="86.30" y2="86.30" stroke="#3cdca9" stroke-width="1.3"/>
<line x1="566.60" x2="566.60" y1="125.43" y2="135.75" stroke="#3cdca9" stroke-width="1.3"/>
<line x1="565.20" x2="568.00" y1="125.43" y2="125.43" stroke="#3cdca9" stroke-width="1.3"/>
<line x1="565.20" x2="568.00" y1="135.75" y2="135.75" stroke="#3cdca9" stroke-width="1.3"/>
<line x1="531.10" x2="531.10" y1="105.22" y2="113.82" stroke="#68e2bd" stroke-width="1.3"/>
<line x1="529.70" x2="532.50" y1="105.22" y2="105.22" stroke="#68e2bd" stroke-width="1.3"/>
<line x1="529.70" x2="532.50" y1="113.82" y2="113.82" stroke="#68e2bd" stroke-width="1.3"/>
<line x1="548.80" x2="548.80" y1="125.86" y2="134.46" stroke="#68e2bd" stroke-width="1.3"/>
<line x1="547.40" x2="550.20" y1="125.86" y2="125.86" stroke="#68e2bd" stroke-width="1.3"/>
<line x1="547.40" x2="550.20" y1="134.46" y2="134.46" stroke="#68e2bd" stroke-width="1.3"/>
<circle cx="513.60" cy="120.70" r="3.4" fill="#1a6b50"/>
<circle cx="531.10" cy="132.31" r="3.4" fill="#1a6b50"/>
<circle cx="548.80" cy="139.62" r="3.4" fill="#1a6b50"/>
<circle cx="566.60" cy="158.54" r="3.4" fill="#1a6b50"/>
<circle cx="513.60" cy="120.70" r="3.4" fill="#1d9370"/>
<circle cx="531.10" cy="109.52" r="3.4" fill="#1d9370"/>
<circle cx="548.80" cy="93.61" r="3.4" fill="#1d9370"/>
<circle cx="566.60" cy="22.66" r="3.4" fill="#1d9370"/>
<circle cx="513.60" cy="120.70" r="3.4" fill="#22c08f"/>
<circle cx="531.10" cy="120.70" r="3.4" fill="#22c08f"/>
<circle cx="548.80" cy="111.24" r="3.4" fill="#22c08f"/>
<circle cx="566.60" cy="78.99" r="3.4" fill="#22c08f"/>
<circle cx="513.60" cy="120.70" r="3.4" fill="#3cdca9"/>
<circle cx="531.10" cy="92.32" r="3.4" fill="#3cdca9"/>
<circle cx="548.80" cy="75.55" r="3.4" fill="#3cdca9"/>
<circle cx="566.60" cy="130.59" r="3.4" fill="#3cdca9"/>
<circle cx="513.60" cy="120.70" r="3.4" fill="#68e2bd"/>
<circle cx="531.10" cy="109.52" r="3.4" fill="#68e2bd"/>
<circle cx="548.80" cy="130.16" r="3.4" fill="#68e2bd"/>
<circle cx="566.60" cy="158.54" r="3.4" fill="#68e2bd"/>
<circle cx="513.60" cy="120.70" r="3.4" fill="#97ebd1"/>
<circle cx="531.10" cy="128.44" r="3.4" fill="#97ebd1"/>
<circle cx="548.80" cy="145.64" r="3.4" fill="#97ebd1"/>
<circle cx="566.60" cy="158.54" r="3.4" fill="#97ebd1"/>
</g>
<rect x="504.00" y="2.10" width="72.40" height="168.40" fill="none" stroke="#000" stroke-width="1.75"/>
<line x1="499.00" x2="503.15" y1="163.70" y2="163.70" stroke="#000" stroke-width="1.75"/>
<text x="0.00" y="0.00" font-size="9.2" text-anchor="end" fill="#262626" transform="translate(497.90,167.00) rotate(0.05)" stroke="#262626" stroke-width="0.15">-100</text>
<line x1="499.00" x2="503.15" y1="120.70" y2="120.70" stroke="#000" stroke-width="1.75"/>
<text x="0.00" y="0.00" font-size="9.2" text-anchor="end" fill="#262626" transform="translate(497.90,124.00) rotate(0.05)" stroke="#262626" stroke-width="0.15">0</text>
<line x1="499.00" x2="503.15" y1="77.70" y2="77.70" stroke="#000" stroke-width="1.75"/>
<text x="0.00" y="0.00" font-size="9.2" text-anchor="end" fill="#262626" transform="translate(497.90,81.00) rotate(0.05)" stroke="#262626" stroke-width="0.15">100</text>
<line x1="499.00" x2="503.15" y1="34.70" y2="34.70" stroke="#000" stroke-width="1.75"/>
<text x="0.00" y="0.00" font-size="9.2" text-anchor="end" fill="#262626" transform="translate(497.90,38.00) rotate(0.05)" stroke="#262626" stroke-width="0.15">200</text>
<line x1="513.60" x2="513.60" y1="170.50" y2="174.65" stroke="#000" stroke-width="1.75"/>
<text x="0.00" y="0.00" font-size="9.2" text-anchor="end" fill="#262626" transform="translate(518.30,184.05) rotate(-45)" stroke="#262626" stroke-width="0.15">EFF mix</text>
<line x1="531.10" x2="531.10" y1="170.50" y2="174.65" stroke="#000" stroke-width="1.75"/>
<text x="0.00" y="0.00" font-size="9.2" text-anchor="end" fill="#262626" transform="translate(535.80,184.05) rotate(-45)" stroke="#262626" stroke-width="0.15">TET-0.5-20</text>
<line x1="548.80" x2="548.80" y1="170.50" y2="174.65" stroke="#000" stroke-width="1.75"/>
<text x="0.00" y="0.00" font-size="9.2" text-anchor="end" fill="#262626" transform="translate(553.50,184.05) rotate(-45)" stroke="#262626" stroke-width="0.15">TET-1-20</text>
<line x1="566.60" x2="566.60" y1="170.50" y2="174.65" stroke="#000" stroke-width="1.75"/>
<text x="0.00" y="0.00" font-size="9.2" text-anchor="end" fill="#262626" transform="translate(571.30,184.05) rotate(-45)" stroke="#262626" stroke-width="0.15">TET-4-20</text>
<text x="0.00" y="0.00" font-size="12.4" text-anchor="middle" font-weight="bold" fill="#000" transform="translate(477.50,86.30) rotate(-90)">% change</text>
<clipPath id="cpe504"><rect x="504.00" y="225.20" width="72.40" height="168.40"/></clipPath>
<g clip-path="url(#cpe504)">
<polyline points="513.60,341.40 531.10,347.30 548.80,352.75 566.60,374.09" fill="none" stroke="#774606" stroke-width="1.5" stroke-linejoin="round"/>
<polyline points="513.60,341.40 531.10,316.43 548.80,302.81 566.60,300.54" fill="none" stroke="#a86709" stroke-width="1.5" stroke-linejoin="round"/>
<polyline points="513.60,341.40 531.10,358.65 548.80,371.82 566.60,379.54" fill="none" stroke="#e08a0a" stroke-width="1.5" stroke-linejoin="round"/>
<polyline points="513.60,341.40 531.10,335.50 548.80,323.24 566.60,238.80" fill="none" stroke="#f7a321" stroke-width="1.5" stroke-linejoin="round"/>
<polyline points="513.60,341.40 531.10,333.68 548.80,334.59 566.60,362.28" fill="none" stroke="#f9b652" stroke-width="1.5" stroke-linejoin="round"/>
<polyline points="513.60,341.40 531.10,329.60 548.80,333.68 566.60,364.10" fill="none" stroke="#fbcc88" stroke-width="1.5" stroke-linejoin="round"/>
<line x1="531.10" x2="531.10" y1="343.67" y2="350.93" stroke="#774606" stroke-width="1.3"/>
<line x1="529.70" x2="532.50" y1="343.67" y2="343.67" stroke="#774606" stroke-width="1.3"/>
<line x1="529.70" x2="532.50" y1="350.93" y2="350.93" stroke="#774606" stroke-width="1.3"/>
<line x1="548.80" x2="548.80" y1="348.21" y2="357.29" stroke="#774606" stroke-width="1.3"/>
<line x1="547.40" x2="550.20" y1="348.21" y2="348.21" stroke="#774606" stroke-width="1.3"/>
<line x1="547.40" x2="550.20" y1="357.29" y2="357.29" stroke="#774606" stroke-width="1.3"/>
<line x1="531.10" x2="531.10" y1="309.62" y2="323.24" stroke="#a86709" stroke-width="1.3"/>
<line x1="529.70" x2="532.50" y1="309.62" y2="309.62" stroke="#a86709" stroke-width="1.3"/>
<line x1="529.70" x2="532.50" y1="323.24" y2="323.24" stroke="#a86709" stroke-width="1.3"/>
<line x1="548.80" x2="548.80" y1="292.82" y2="312.80" stroke="#a86709" stroke-width="1.3"/>
<line x1="547.40" x2="550.20" y1="292.82" y2="292.82" stroke="#a86709" stroke-width="1.3"/>
<line x1="547.40" x2="550.20" y1="312.80" y2="312.80" stroke="#a86709" stroke-width="1.3"/>
<line x1="566.60" x2="566.60" y1="288.74" y2="312.34" stroke="#a86709" stroke-width="1.3"/>
<line x1="565.20" x2="568.00" y1="288.74" y2="288.74" stroke="#a86709" stroke-width="1.3"/>
<line x1="565.20" x2="568.00" y1="312.34" y2="312.34" stroke="#a86709" stroke-width="1.3"/>
<line x1="548.80" x2="548.80" y1="318.70" y2="327.78" stroke="#f7a321" stroke-width="1.3"/>
<line x1="547.40" x2="550.20" y1="318.70" y2="318.70" stroke="#f7a321" stroke-width="1.3"/>
<line x1="547.40" x2="550.20" y1="327.78" y2="327.78" stroke="#f7a321" stroke-width="1.3"/>
<line x1="566.60" x2="566.60" y1="231.53" y2="246.06" stroke="#f7a321" stroke-width="1.3"/>
<line x1="565.20" x2="568.00" y1="231.53" y2="231.53" stroke="#f7a321" stroke-width="1.3"/>
<line x1="565.20" x2="568.00" y1="246.06" y2="246.06" stroke="#f7a321" stroke-width="1.3"/>
<line x1="548.80" x2="548.80" y1="330.05" y2="339.13" stroke="#f9b652" stroke-width="1.3"/>
<line x1="547.40" x2="550.20" y1="330.05" y2="330.05" stroke="#f9b652" stroke-width="1.3"/>
<line x1="547.40" x2="550.20" y1="339.13" y2="339.13" stroke="#f9b652" stroke-width="1.3"/>
<line x1="566.60" x2="566.60" y1="358.65" y2="365.92" stroke="#f9b652" stroke-width="1.3"/>
<line x1="565.20" x2="568.00" y1="358.65" y2="358.65" stroke="#f9b652" stroke-width="1.3"/>
<line x1="565.20" x2="568.00" y1="365.92" y2="365.92" stroke="#f9b652" stroke-width="1.3"/>
<line x1="531.10" x2="531.10" y1="325.06" y2="334.14" stroke="#fbcc88" stroke-width="1.3"/>
<line x1="529.70" x2="532.50" y1="325.06" y2="325.06" stroke="#fbcc88" stroke-width="1.3"/>
<line x1="529.70" x2="532.50" y1="334.14" y2="334.14" stroke="#fbcc88" stroke-width="1.3"/>
<line x1="548.80" x2="548.80" y1="329.14" y2="338.22" stroke="#fbcc88" stroke-width="1.3"/>
<line x1="547.40" x2="550.20" y1="329.14" y2="329.14" stroke="#fbcc88" stroke-width="1.3"/>
<line x1="547.40" x2="550.20" y1="338.22" y2="338.22" stroke="#fbcc88" stroke-width="1.3"/>
<line x1="566.60" x2="566.60" y1="360.47" y2="367.73" stroke="#fbcc88" stroke-width="1.3"/>
<line x1="565.20" x2="568.00" y1="360.47" y2="360.47" stroke="#fbcc88" stroke-width="1.3"/>
<line x1="565.20" x2="568.00" y1="367.73" y2="367.73" stroke="#fbcc88" stroke-width="1.3"/>
<circle cx="513.60" cy="341.40" r="3.4" fill="#774606"/>
<circle cx="531.10" cy="347.30" r="3.4" fill="#774606"/>
<circle cx="548.80" cy="352.75" r="3.4" fill="#774606"/>
<circle cx="566.60" cy="374.09" r="3.4" fill="#774606"/>
<circle cx="513.60" cy="341.40" r="3.4" fill="#a86709"/>
<circle cx="531.10" cy="316.43" r="3.4" fill="#a86709"/>
<circle cx="548.80" cy="302.81" r="3.4" fill="#a86709"/>
<circle cx="566.60" cy="300.54" r="3.4" fill="#a86709"/>
<circle cx="513.60" cy="341.40" r="3.4" fill="#e08a0a"/>
<circle cx="531.10" cy="358.65" r="3.4" fill="#e08a0a"/>
<circle cx="548.80" cy="371.82" r="3.4" fill="#e08a0a"/>
<circle cx="566.60" cy="379.54" r="3.4" fill="#e08a0a"/>
<circle cx="513.60" cy="341.40" r="3.4" fill="#f7a321"/>
<circle cx="531.10" cy="335.50" r="3.4" fill="#f7a321"/>
<circle cx="548.80" cy="323.24" r="3.4" fill="#f7a321"/>
<circle cx="566.60" cy="238.80" r="3.4" fill="#f7a321"/>
<circle cx="513.60" cy="341.40" r="3.4" fill="#f9b652"/>
<circle cx="531.10" cy="333.68" r="3.4" fill="#f9b652"/>
<circle cx="548.80" cy="334.59" r="3.4" fill="#f9b652"/>
<circle cx="566.60" cy="362.28" r="3.4" fill="#f9b652"/>
<circle cx="513.60" cy="341.40" r="3.4" fill="#fbcc88"/>
<circle cx="531.10" cy="329.60" r="3.4" fill="#fbcc88"/>
<circle cx="548.80" cy="333.68" r="3.4" fill="#fbcc88"/>
<circle cx="566.60" cy="364.10" r="3.4" fill="#fbcc88"/>
</g>
<rect x="504.00" y="225.20" width="72.40" height="168.40" fill="none" stroke="#000" stroke-width="1.75"/>
<line x1="499.00" x2="503.15" y1="386.80" y2="386.80" stroke="#000" stroke-width="1.75"/>
<text x="0.00" y="0.00" font-size="9.2" text-anchor="end" fill="#262626" transform="translate(497.90,390.10) rotate(0.05)" stroke="#262626" stroke-width="0.15">-100</text>
<line x1="499.00" x2="503.15" y1="341.40" y2="341.40" stroke="#000" stroke-width="1.75"/>
<text x="0.00" y="0.00" font-size="9.2" text-anchor="end" fill="#262626" transform="translate(497.90,344.70) rotate(0.05)" stroke="#262626" stroke-width="0.15">0</text>
<line x1="499.00" x2="503.15" y1="296.00" y2="296.00" stroke="#000" stroke-width="1.75"/>
<text x="0.00" y="0.00" font-size="9.2" text-anchor="end" fill="#262626" transform="translate(497.90,299.30) rotate(0.05)" stroke="#262626" stroke-width="0.15">100</text>
<line x1="499.00" x2="503.15" y1="250.60" y2="250.60" stroke="#000" stroke-width="1.75"/>
<text x="0.00" y="0.00" font-size="9.2" text-anchor="end" fill="#262626" transform="translate(497.90,253.90) rotate(0.05)" stroke="#262626" stroke-width="0.15">200</text>
<line x1="513.60" x2="513.60" y1="393.60" y2="397.75" stroke="#000" stroke-width="1.75"/>
<text x="0.00" y="0.00" font-size="9.2" text-anchor="end" fill="#262626" transform="translate(518.30,407.15) rotate(-45)" stroke="#262626" stroke-width="0.15">RPP mix</text>
<line x1="531.10" x2="531.10" y1="393.60" y2="397.75" stroke="#000" stroke-width="1.75"/>
<text x="0.00" y="0.00" font-size="9.2" text-anchor="end" fill="#262626" transform="translate(535.80,407.15) rotate(-45)" stroke="#262626" stroke-width="0.15">DOX-0.5-20</text>
<line x1="548.80" x2="548.80" y1="393.60" y2="397.75" stroke="#000" stroke-width="1.75"/>
<text x="0.00" y="0.00" font-size="9.2" text-anchor="end" fill="#262626" transform="translate(553.50,407.15) rotate(-45)" stroke="#262626" stroke-width="0.15">DOX-1-20</text>
<line x1="566.60" x2="566.60" y1="393.60" y2="397.75" stroke="#000" stroke-width="1.75"/>
<text x="0.00" y="0.00" font-size="9.2" text-anchor="end" fill="#262626" transform="translate(571.30,407.15) rotate(-45)" stroke="#262626" stroke-width="0.15">DOX-4-20</text>
<text x="0.00" y="0.00" font-size="12.4" text-anchor="middle" font-weight="bold" fill="#000" transform="translate(477.50,309.40) rotate(-90)">% change</text>
<clipPath id="cpf504"><rect x="504.00" y="448.10" width="72.40" height="168.40"/></clipPath>
<g clip-path="url(#cpf504)">
<polyline points="513.60,572.60 531.10,597.79 548.80,606.44 566.60,608.32" fill="none" stroke="#2e2a55" stroke-width="1.5" stroke-linejoin="round"/>
<polyline points="513.60,572.60 531.10,531.99 548.80,491.01 566.60,530.49" fill="none" stroke="#3f3a76" stroke-width="1.5" stroke-linejoin="round"/>
<polyline points="513.60,572.60 531.10,564.70 548.80,587.64 566.60,608.32" fill="none" stroke="#504b95" stroke-width="1.5" stroke-linejoin="round"/>
<polyline points="513.60,572.60 531.10,583.50 548.80,594.03 566.60,608.32" fill="none" stroke="#6863ad" stroke-width="1.5" stroke-linejoin="round"/>
<polyline points="513.60,572.60 531.10,574.10 548.80,599.67 566.60,608.32" fill="none" stroke="#8d88c3" stroke-width="1.5" stroke-linejoin="round"/>
<polyline points="513.60,572.60 531.10,561.70 548.80,538.01 566.60,464.69" fill="none" stroke="#aeabd6" stroke-width="1.5" stroke-linejoin="round"/>
<line x1="531.10" x2="531.10" y1="513.94" y2="550.04" stroke="#3f3a76" stroke-width="1.3"/>
<line x1="529.70" x2="532.50" y1="513.94" y2="513.94" stroke="#3f3a76" stroke-width="1.3"/>
<line x1="529.70" x2="532.50" y1="550.04" y2="550.04" stroke="#3f3a76" stroke-width="1.3"/>
<line x1="548.80" x2="548.80" y1="473.71" y2="508.30" stroke="#3f3a76" stroke-width="1.3"/>
<line x1="547.40" x2="550.20" y1="473.71" y2="473.71" stroke="#3f3a76" stroke-width="1.3"/>
<line x1="547.40" x2="550.20" y1="508.30" y2="508.30" stroke="#3f3a76" stroke-width="1.3"/>
<line x1="566.60" x2="566.60" y1="517.70" y2="543.27" stroke="#3f3a76" stroke-width="1.3"/>
<line x1="565.20" x2="568.00" y1="517.70" y2="517.70" stroke="#3f3a76" stroke-width="1.3"/>
<line x1="565.20" x2="568.00" y1="543.27" y2="543.27" stroke="#3f3a76" stroke-width="1.3"/>
<line x1="531.10" x2="531.10" y1="557.94" y2="565.46" stroke="#aeabd6" stroke-width="1.3"/>
<line x1="529.70" x2="532.50" y1="557.94" y2="557.94" stroke="#aeabd6" stroke-width="1.3"/>
<line x1="529.70" x2="532.50" y1="565.46" y2="565.46" stroke="#aeabd6" stroke-width="1.3"/>
<line x1="548.80" x2="548.80" y1="534.25" y2="541.77" stroke="#aeabd6" stroke-width="1.3"/>
<line x1="547.40" x2="550.20" y1="534.25" y2="534.25" stroke="#aeabd6" stroke-width="1.3"/>
<line x1="547.40" x2="550.20" y1="541.77" y2="541.77" stroke="#aeabd6" stroke-width="1.3"/>
<line x1="566.60" x2="566.60" y1="455.66" y2="473.71" stroke="#aeabd6" stroke-width="1.3"/>
<line x1="565.20" x2="568.00" y1="455.66" y2="455.66" stroke="#aeabd6" stroke-width="1.3"/>
<line x1="565.20" x2="568.00" y1="473.71" y2="473.71" stroke="#aeabd6" stroke-width="1.3"/>
<circle cx="513.60" cy="572.60" r="3.4" fill="#2e2a55"/>
<circle cx="531.10" cy="597.79" r="3.4" fill="#2e2a55"/>
<circle cx="548.80" cy="606.44" r="3.4" fill="#2e2a55"/>
<circle cx="566.60" cy="608.32" r="3.4" fill="#2e2a55"/>
<circle cx="513.60" cy="572.60" r="3.4" fill="#3f3a76"/>
<circle cx="531.10" cy="531.99" r="3.4" fill="#3f3a76"/>
<circle cx="548.80" cy="491.01" r="3.4" fill="#3f3a76"/>
<circle cx="566.60" cy="530.49" r="3.4" fill="#3f3a76"/>
<circle cx="513.60" cy="572.60" r="3.4" fill="#504b95"/>
<circle cx="531.10" cy="564.70" r="3.4" fill="#504b95"/>
<circle cx="548.80" cy="587.64" r="3.4" fill="#504b95"/>
<circle cx="566.60" cy="608.32" r="3.4" fill="#504b95"/>
<circle cx="513.60" cy="572.60" r="3.4" fill="#6863ad"/>
<circle cx="531.10" cy="583.50" r="3.4" fill="#6863ad"/>
<circle cx="548.80" cy="594.03" r="3.4" fill="#6863ad"/>
<circle cx="566.60" cy="608.32" r="3.4" fill="#6863ad"/>
<circle cx="513.60" cy="572.60" r="3.4" fill="#8d88c3"/>
<circle cx="531.10" cy="574.10" r="3.4" fill="#8d88c3"/>
<circle cx="548.80" cy="599.67" r="3.4" fill="#8d88c3"/>
<circle cx="566.60" cy="608.32" r="3.4" fill="#8d88c3"/>
<circle cx="513.60" cy="572.60" r="3.4" fill="#aeabd6"/>
<circle cx="531.10" cy="561.70" r="3.4" fill="#aeabd6"/>
<circle cx="548.80" cy="538.01" r="3.4" fill="#aeabd6"/>
<circle cx="566.60" cy="464.69" r="3.4" fill="#aeabd6"/>
</g>
<rect x="504.00" y="448.10" width="72.40" height="168.40" fill="none" stroke="#000" stroke-width="1.75"/>
<line x1="499.00" x2="503.15" y1="610.20" y2="610.20" stroke="#000" stroke-width="1.75"/>
<text x="0.00" y="0.00" font-size="9.2" text-anchor="end" fill="#262626" transform="translate(497.90,613.50) rotate(0.05)" stroke="#262626" stroke-width="0.15">-100</text>
<line x1="499.00" x2="503.15" y1="572.60" y2="572.60" stroke="#000" stroke-width="1.75"/>
<text x="0.00" y="0.00" font-size="9.2" text-anchor="end" fill="#262626" transform="translate(497.90,575.90) rotate(0.05)" stroke="#262626" stroke-width="0.15">0</text>
<line x1="499.00" x2="503.15" y1="535.00" y2="535.00" stroke="#000" stroke-width="1.75"/>
<text x="0.00" y="0.00" font-size="9.2" text-anchor="end" fill="#262626" transform="translate(497.90,538.30) rotate(0.05)" stroke="#262626" stroke-width="0.15">100</text>
<line x1="499.00" x2="503.15" y1="497.40" y2="497.40" stroke="#000" stroke-width="1.75"/>
<text x="0.00" y="0.00" font-size="9.2" text-anchor="end" fill="#262626" transform="translate(497.90,500.70) rotate(0.05)" stroke="#262626" stroke-width="0.15">200</text>
<line x1="499.00" x2="503.15" y1="459.80" y2="459.80" stroke="#000" stroke-width="1.75"/>
<text x="0.00" y="0.00" font-size="9.2" text-anchor="end" fill="#262626" transform="translate(497.90,463.10) rotate(0.05)" stroke="#262626" stroke-width="0.15">300</text>
<line x1="513.60" x2="513.60" y1="616.50" y2="620.65" stroke="#000" stroke-width="1.75"/>
<text x="0.00" y="0.00" font-size="9.2" text-anchor="end" fill="#262626" transform="translate(518.30,630.05) rotate(-45)" stroke="#262626" stroke-width="0.15">DES1 mix</text>
<line x1="531.10" x2="531.10" y1="616.50" y2="620.65" stroke="#000" stroke-width="1.75"/>
<text x="0.00" y="0.00" font-size="9.2" text-anchor="end" fill="#262626" transform="translate(535.80,630.05) rotate(-45)" stroke="#262626" stroke-width="0.15">TIG-0.25-20</text>
<line x1="548.80" x2="548.80" y1="616.50" y2="620.65" stroke="#000" stroke-width="1.75"/>
<text x="0.00" y="0.00" font-size="9.2" text-anchor="end" fill="#262626" transform="translate(553.50,630.05) rotate(-45)" stroke="#262626" stroke-width="0.15">TIG-0.5-48</text>
<line x1="566.60" x2="566.60" y1="616.50" y2="620.65" stroke="#000" stroke-width="1.75"/>
<text x="0.00" y="0.00" font-size="9.2" text-anchor="end" fill="#262626" transform="translate(571.30,630.05) rotate(-45)" stroke="#262626" stroke-width="0.15">TIG-2-48</text>
<text x="0.00" y="0.00" font-size="12.4" text-anchor="middle" font-weight="bold" fill="#000" transform="translate(477.50,532.30) rotate(-90)">% change</text>
<text x="0.00" y="0.00" font-size="12.4" text-anchor="start" font-weight="bold" fill="#000" transform="translate(589.90,8.90) rotate(0.05)">strain</text>
<rect x="590.00" y="15.00" width="10.2" height="9.9" fill="#2e2a55"/>
<text x="0.00" y="0.00" font-size="9.3" text-anchor="start" fill="#1a1a1a" transform="translate(607.80,23.50) rotate(0.05)" stroke="#1a1a1a" stroke-width="0.15">tetX2</text>
<rect x="590.00" y="27.30" width="10.2" height="9.9" fill="#3f3a76"/>
<text x="0.00" y="0.00" font-size="9.3" text-anchor="start" fill="#1a1a1a" transform="translate(607.80,35.80) rotate(0.05)" stroke="#1a1a1a" stroke-width="0.15">tetX3</text>
<rect x="590.00" y="39.60" width="10.2" height="9.9" fill="#504b95"/>
<text x="0.00" y="0.00" font-size="9.3" text-anchor="start" fill="#1a1a1a" transform="translate(607.80,48.10) rotate(0.05)" stroke="#1a1a1a" stroke-width="0.15">tetX6</text>
<rect x="590.00" y="51.90" width="10.2" height="9.9" fill="#6863ad"/>
<text x="0.00" y="0.00" font-size="9.3" text-anchor="start" fill="#1a1a1a" transform="translate(607.80,60.40) rotate(0.05)" stroke="#1a1a1a" stroke-width="0.15">tetX7</text>
<rect x="590.00" y="64.20" width="10.2" height="9.9" fill="#8d88c3"/>
<text x="0.00" y="0.00" font-size="9.3" text-anchor="start" fill="#1a1a1a" transform="translate(607.80,72.70) rotate(0.05)" stroke="#1a1a1a" stroke-width="0.15">tetX8</text>
<rect x="590.00" y="76.50" width="10.2" height="9.9" fill="#aeabd6"/>
<text x="0.00" y="0.00" font-size="9.3" text-anchor="start" fill="#1a1a1a" transform="translate(607.80,85.00) rotate(0.05)" stroke="#1a1a1a" stroke-width="0.15">tetX12</text>
<rect x="647.30" y="15.00" width="10.2" height="9.9" fill="#774606"/>
<text x="0.00" y="0.00" font-size="9.3" text-anchor="start" fill="#1a1a1a" transform="translate(665.00,23.50) rotate(0.05)" stroke="#1a1a1a" stroke-width="0.15">tetM</text>
<rect x="647.30" y="27.30" width="10.2" height="9.9" fill="#a86709"/>
<text x="0.00" y="0.00" font-size="9.3" text-anchor="start" fill="#1a1a1a" transform="translate(665.00,35.80) rotate(0.05)" stroke="#1a1a1a" stroke-width="0.15">tetO</text>
<rect x="647.30" y="39.60" width="10.2" height="9.9" fill="#e08a0a"/>
<text x="0.00" y="0.00" font-size="9.3" text-anchor="start" fill="#1a1a1a" transform="translate(665.00,48.10) rotate(0.05)" stroke="#1a1a1a" stroke-width="0.15">tetS</text>
<rect x="647.30" y="51.90" width="10.2" height="9.9" fill="#f7a321"/>
<text x="0.00" y="0.00" font-size="9.3" text-anchor="start" fill="#1a1a1a" transform="translate(665.00,60.40) rotate(0.05)" stroke="#1a1a1a" stroke-width="0.15">tetW</text>
<rect x="647.30" y="64.20" width="10.2" height="9.9" fill="#f9b652"/>
<text x="0.00" y="0.00" font-size="9.3" text-anchor="start" fill="#1a1a1a" transform="translate(665.00,72.70) rotate(0.05)" stroke="#1a1a1a" stroke-width="0.15">tet32</text>
<rect x="647.30" y="76.50" width="10.2" height="9.9" fill="#fbcc88"/>
<text x="0.00" y="0.00" font-size="9.3" text-anchor="start" fill="#1a1a1a" transform="translate(665.00,85.00) rotate(0.05)" stroke="#1a1a1a" stroke-width="0.15">tet36</text>
<rect x="590.00" y="94.60" width="10.2" height="9.9" fill="#1a6b50"/>
<text x="0.00" y="0.00" font-size="9.3" text-anchor="start" fill="#1a1a1a" transform="translate(607.80,103.10) rotate(0.05)" stroke="#1a1a1a" stroke-width="0.15">tetA</text>
<rect x="590.00" y="106.90" width="10.2" height="9.9" fill="#1d9370"/>
<text x="0.00" y="0.00" font-size="9.3" text-anchor="start" fill="#1a1a1a" transform="translate(607.80,115.40) rotate(0.05)" stroke="#1a1a1a" stroke-width="0.15">tetB</text>
<rect x="590.00" y="119.20" width="10.2" height="9.9" fill="#22c08f"/>
<text x="0.00" y="0.00" font-size="9.3" text-anchor="start" fill="#1a1a1a" transform="translate(607.80,127.70) rotate(0.05)" stroke="#1a1a1a" stroke-width="0.15">tetE</text>
<rect x="590.00" y="131.50" width="10.2" height="9.9" fill="#3cdca9"/>
<text x="0.00" y="0.00" font-size="9.3" text-anchor="start" fill="#1a1a1a" transform="translate(607.80,140.00) rotate(0.05)" stroke="#1a1a1a" stroke-width="0.15">tetG</text>
<rect x="590.00" y="143.80" width="10.2" height="9.9" fill="#68e2bd"/>
<text x="0.00" y="0.00" font-size="9.3" text-anchor="start" fill="#1a1a1a" transform="translate(607.80,152.30) rotate(0.05)" stroke="#1a1a1a" stroke-width="0.15">tetL</text>
<rect x="590.00" y="156.10" width="10.2" height="9.9" fill="#97ebd1"/>
<text x="0.00" y="0.00" font-size="9.3" text-anchor="start" fill="#1a1a1a" transform="translate(607.80,164.60) rotate(0.05)" stroke="#1a1a1a" stroke-width="0.15">tet39</text>
<rect x="647.30" y="94.60" width="10.2" height="9.9" fill="#75200e"/>
<text x="0.00" y="0.00" font-size="9.3" text-anchor="start" fill="#1a1a1a" transform="translate(665.00,103.10) rotate(0.05)" stroke="#1a1a1a" stroke-width="0.15">tet47</text>
<rect x="647.30" y="106.90" width="10.2" height="9.9" fill="#9c2b15"/>
<text x="0.00" y="0.00" font-size="9.3" text-anchor="start" fill="#1a1a1a" transform="translate(665.00,115.40) rotate(0.05)" stroke="#1a1a1a" stroke-width="0.15">tet50</text>
<rect x="647.30" y="119.20" width="10.2" height="9.9" fill="#c9391a"/>
<text x="0.00" y="0.00" font-size="9.3" text-anchor="start" fill="#1a1a1a" transform="translate(665.00,127.70) rotate(0.05)" stroke="#1a1a1a" stroke-width="0.15">tet51</text>
<rect x="647.30" y="131.50" width="10.2" height="9.9" fill="#e55436"/>
<text x="0.00" y="0.00" font-size="9.3" text-anchor="start" fill="#1a1a1a" transform="translate(665.00,140.00) rotate(0.05)" stroke="#1a1a1a" stroke-width="0.15">tet54</text>
<rect x="647.30" y="143.80" width="10.2" height="9.9" fill="#ef7a63"/>
<text x="0.00" y="0.00" font-size="9.3" text-anchor="start" fill="#1a1a1a" transform="translate(665.00,152.30) rotate(0.05)" stroke="#1a1a1a" stroke-width="0.15">tet55</text>
<rect x="647.30" y="156.10" width="10.2" height="9.9" fill="#f4a08f"/>
<text x="0.00" y="0.00" font-size="9.3" text-anchor="start" fill="#1a1a1a" transform="translate(665.00,164.60) rotate(0.05)" stroke="#1a1a1a" stroke-width="0.15">tet56</text>
<rect x="590.00" y="174.30" width="10.2" height="9.9" fill="#808080"/>
<text x="0.00" y="0.00" font-size="9.3" text-anchor="start" fill="#1a1a1a" transform="translate(607.80,182.80) rotate(0.05)" stroke="#1a1a1a" stroke-width="0.15">empty</text>
<text x="0.00" y="0.00" font-size="12.4" text-anchor="start" font-weight="bold" fill="#000" transform="translate(589.90,208.10) rotate(0.05)">mechanism</text>
<line x1="589.6" x2="599.6" y1="220.10" y2="220.10" stroke="#7570b3" stroke-width="1.4"/>
<circle cx="594.6" cy="220.10" r="3.7" fill="#7570b3"/>
<text x="0.00" y="0.00" font-size="9.3" text-anchor="start" fill="#1a1a1a" transform="translate(607.80,223.50) rotate(0.05)" stroke="#1a1a1a" stroke-width="0.15">DES1</text>
<line x1="589.6" x2="599.6" y1="232.75" y2="232.75" stroke="#fcc466" stroke-width="1.4"/>
<circle cx="594.6" cy="232.75" r="3.7" fill="#fcc466"/>
<text x="0.00" y="0.00" font-size="9.3" text-anchor="start" fill="#1a1a1a" transform="translate(607.80,236.15) rotate(0.05)" stroke="#1a1a1a" stroke-width="0.15">RPP</text>
<line x1="589.6" x2="599.6" y1="245.40" y2="245.40" stroke="#1b9e77" stroke-width="1.4"/>
<circle cx="594.6" cy="245.40" r="3.7" fill="#1b9e77"/>
<text x="0.00" y="0.00" font-size="9.3" text-anchor="start" fill="#1a1a1a" transform="translate(607.80,248.80) rotate(0.05)" stroke="#1a1a1a" stroke-width="0.15">EFF</text>
<line x1="589.6" x2="599.6" y1="258.05" y2="258.05" stroke="#e25330" stroke-width="1.4"/>
<circle cx="594.6" cy="258.05" r="3.7" fill="#e25330"/>
<text x="0.00" y="0.00" font-size="9.3" text-anchor="start" fill="#1a1a1a" transform="translate(607.80,261.45) rotate(0.05)" stroke="#1a1a1a" stroke-width="0.15">DES2</text>
<line x1="589.6" x2="599.6" y1="270.70" y2="270.70" stroke="#808080" stroke-width="1.4"/>
<circle cx="594.6" cy="270.70" r="3.7" fill="#808080"/>
<text x="0.00" y="0.00" font-size="9.3" text-anchor="start" fill="#1a1a1a" transform="translate(607.80,274.10) rotate(0.05)" stroke="#1a1a1a" stroke-width="0.15">none</text>
</svg>
</body></html>
